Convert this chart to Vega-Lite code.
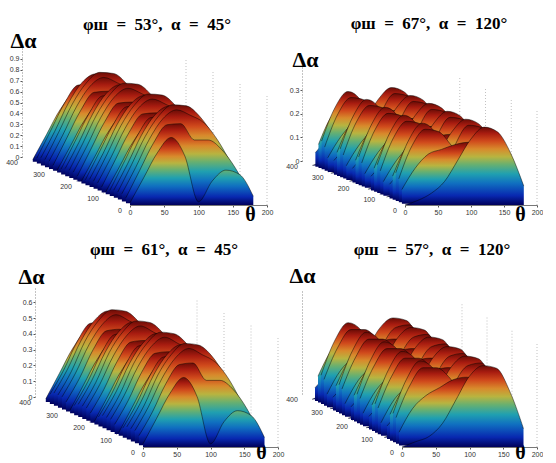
{
  "$schema": "https://vega.github.io/schema/vega-lite/v6.json",
  "background": "white",
  "padding": {"left": 6, "top": 15, "right": 0, "bottom": 0},
  "columns": 2,
  "bounds": "flush",
  "spacing": {"row": 72, "column": 22},
  "config": {
    "view": {"stroke": null},
    "axis": {"grid": false, "labelFont": "Liberation Sans", "labelFontSize": 7, "labelColor": "#333", "labelPadding": 1, "labelFlush": false, "labelOverlap": false, "tickSize": 2, "tickColor": "#555", "domainColor": "#777", "titleFont": "Liberation Serif", "titleFontSize": 22, "titleFontWeight": "bold", "titleColor": "#000", "titleAngle": 0, "titleAlign": "center", "titleBaseline": "middle", "titlePadding": 0},
    "axisX": {"titleFontSize": 20},
    "axisY": {"domainDash": [1, 2], "domainColor": "#888", "titleAngle": 0},
    "title": {"font": "Liberation Serif", "fontSize": 17, "fontWeight": "bold", "color": "#000", "baseline": "bottom", "frame": "group"},
    "rule": {"color": "#a8a8a8", "strokeWidth": 0.7, "strokeDash": [1, 2]},
    "line": {"interpolate": "monotone", "color": "#000", "strokeWidth": 0.5, "strokeOpacity": 0.9},
    "area": {"interpolate": "monotone", "fill": {"gradient": "linear", "x1": 0, "y1": 1, "x2": 0, "y2": 0, "stops": [{"offset": 0, "color": "#00005a"}, {"offset": 0.12, "color": "#0828b0"}, {"offset": 0.28, "color": "#1070c0"}, {"offset": 0.4, "color": "#20a0b0"}, {"offset": 0.52, "color": "#68b070"}, {"offset": 0.62, "color": "#b8b440"}, {"offset": 0.72, "color": "#d88a2c"}, {"offset": 0.82, "color": "#d04a1c"}, {"offset": 0.92, "color": "#a81c10"}, {"offset": 1, "color": "#6a0c06"}]}, "stroke": null}
  },
  "datasets": {
    "lv": [{"d":0},{"d":0.1},{"d":0.2},{"d":0.3},{"d":0.4},{"d":0.5},{"d":0.6},{"d":0.7},{"d":0.8},{"d":0.9},{"d":1}],
    "lv4": [{"d":0},{"d":0.05},{"d":0.1},{"d":0.15},{"d":0.2},{"d":0.25},{"d":0.3},{"d":0.35},{"d":0.4}],
    "tv": [{"t":50},{"t":100},{"t":150},{"t":200}],
    "pv": [{"f":100},{"f":200},{"f":300}],
    "pv0": [{"f":0},{"f":100},{"f":200},{"f":300}],
    "pt": [{"f":0},{"f":100},{"f":200},{"f":300},{"f":400}],
    "s1": [
      {"f":360,"t":0,"d":0.02},{"f":360,"t":20,"d":0.25},{"f":360,"t":40,"d":0.48},{"f":360,"t":60,"d":0.62},{"f":360,"t":80,"d":0.45},{"f":360,"t":100,"d":0.03},{"f":360,"t":120,"d":0.22},{"f":360,"t":140,"d":0.32},{"f":360,"t":160,"d":0.28},{"f":360,"t":180,"d":0.08},
      {"f":345,"t":0,"d":0.05},{"f":345,"t":20,"d":0.3},{"f":345,"t":40,"d":0.55},{"f":345,"t":60,"d":0.72},{"f":345,"t":80,"d":0.73},{"f":345,"t":100,"d":0.58},{"f":345,"t":120,"d":0.58},{"f":345,"t":140,"d":0.49},{"f":345,"t":160,"d":0.32},{"f":345,"t":180,"d":0.09},
      {"f":330,"t":0,"d":0.07},{"f":330,"t":20,"d":0.31},{"f":330,"t":40,"d":0.57},{"f":330,"t":60,"d":0.76},{"f":330,"t":80,"d":0.84},{"f":330,"t":100,"d":0.79},{"f":330,"t":120,"d":0.72},{"f":330,"t":140,"d":0.56},{"f":330,"t":160,"d":0.34},{"f":330,"t":180,"d":0.09},
      {"f":315,"t":0,"d":0.07},{"f":315,"t":20,"d":0.32},{"f":315,"t":40,"d":0.58},{"f":315,"t":60,"d":0.77},{"f":315,"t":80,"d":0.87},{"f":315,"t":100,"d":0.86},{"f":315,"t":120,"d":0.76},{"f":315,"t":140,"d":0.58},{"f":315,"t":160,"d":0.34},{"f":315,"t":180,"d":0.09},
      {"f":300,"t":0,"d":0.07},{"f":300,"t":20,"d":0.31},{"f":300,"t":40,"d":0.57},{"f":300,"t":60,"d":0.76},{"f":300,"t":80,"d":0.84},{"f":300,"t":100,"d":0.79},{"f":300,"t":120,"d":0.72},{"f":300,"t":140,"d":0.56},{"f":300,"t":160,"d":0.34},{"f":300,"t":180,"d":0.09},
      {"f":285,"t":0,"d":0.05},{"f":285,"t":20,"d":0.3},{"f":285,"t":40,"d":0.55},{"f":285,"t":60,"d":0.72},{"f":285,"t":80,"d":0.73},{"f":285,"t":100,"d":0.58},{"f":285,"t":120,"d":0.58},{"f":285,"t":140,"d":0.49},{"f":285,"t":160,"d":0.32},{"f":285,"t":180,"d":0.09},
      {"f":270,"t":0,"d":0.02},{"f":270,"t":20,"d":0.25},{"f":270,"t":40,"d":0.48},{"f":270,"t":60,"d":0.62},{"f":270,"t":80,"d":0.45},{"f":270,"t":100,"d":0.03},{"f":270,"t":120,"d":0.22},{"f":270,"t":140,"d":0.32},{"f":270,"t":160,"d":0.28},{"f":270,"t":180,"d":0.08},
      {"f":255,"t":0,"d":0.05},{"f":255,"t":20,"d":0.3},{"f":255,"t":40,"d":0.55},{"f":255,"t":60,"d":0.72},{"f":255,"t":80,"d":0.73},{"f":255,"t":100,"d":0.58},{"f":255,"t":120,"d":0.58},{"f":255,"t":140,"d":0.49},{"f":255,"t":160,"d":0.32},{"f":255,"t":180,"d":0.09},
      {"f":240,"t":0,"d":0.07},{"f":240,"t":20,"d":0.31},{"f":240,"t":40,"d":0.57},{"f":240,"t":60,"d":0.76},{"f":240,"t":80,"d":0.84},{"f":240,"t":100,"d":0.79},{"f":240,"t":120,"d":0.72},{"f":240,"t":140,"d":0.56},{"f":240,"t":160,"d":0.34},{"f":240,"t":180,"d":0.09},
      {"f":225,"t":0,"d":0.07},{"f":225,"t":20,"d":0.32},{"f":225,"t":40,"d":0.58},{"f":225,"t":60,"d":0.77},{"f":225,"t":80,"d":0.87},{"f":225,"t":100,"d":0.86},{"f":225,"t":120,"d":0.76},{"f":225,"t":140,"d":0.58},{"f":225,"t":160,"d":0.34},{"f":225,"t":180,"d":0.09},
      {"f":210,"t":0,"d":0.07},{"f":210,"t":20,"d":0.31},{"f":210,"t":40,"d":0.57},{"f":210,"t":60,"d":0.76},{"f":210,"t":80,"d":0.84},{"f":210,"t":100,"d":0.79},{"f":210,"t":120,"d":0.72},{"f":210,"t":140,"d":0.56},{"f":210,"t":160,"d":0.34},{"f":210,"t":180,"d":0.09},
      {"f":195,"t":0,"d":0.05},{"f":195,"t":20,"d":0.3},{"f":195,"t":40,"d":0.55},{"f":195,"t":60,"d":0.72},{"f":195,"t":80,"d":0.73},{"f":195,"t":100,"d":0.58},{"f":195,"t":120,"d":0.58},{"f":195,"t":140,"d":0.49},{"f":195,"t":160,"d":0.32},{"f":195,"t":180,"d":0.09},
      {"f":180,"t":0,"d":0.02},{"f":180,"t":20,"d":0.25},{"f":180,"t":40,"d":0.48},{"f":180,"t":60,"d":0.62},{"f":180,"t":80,"d":0.45},{"f":180,"t":100,"d":0.03},{"f":180,"t":120,"d":0.22},{"f":180,"t":140,"d":0.32},{"f":180,"t":160,"d":0.28},{"f":180,"t":180,"d":0.08},
      {"f":165,"t":0,"d":0.05},{"f":165,"t":20,"d":0.3},{"f":165,"t":40,"d":0.55},{"f":165,"t":60,"d":0.72},{"f":165,"t":80,"d":0.73},{"f":165,"t":100,"d":0.58},{"f":165,"t":120,"d":0.58},{"f":165,"t":140,"d":0.49},{"f":165,"t":160,"d":0.32},{"f":165,"t":180,"d":0.09},
      {"f":150,"t":0,"d":0.07},{"f":150,"t":20,"d":0.31},{"f":150,"t":40,"d":0.57},{"f":150,"t":60,"d":0.76},{"f":150,"t":80,"d":0.84},{"f":150,"t":100,"d":0.79},{"f":150,"t":120,"d":0.72},{"f":150,"t":140,"d":0.56},{"f":150,"t":160,"d":0.34},{"f":150,"t":180,"d":0.09},
      {"f":135,"t":0,"d":0.07},{"f":135,"t":20,"d":0.32},{"f":135,"t":40,"d":0.58},{"f":135,"t":60,"d":0.77},{"f":135,"t":80,"d":0.87},{"f":135,"t":100,"d":0.86},{"f":135,"t":120,"d":0.76},{"f":135,"t":140,"d":0.58},{"f":135,"t":160,"d":0.34},{"f":135,"t":180,"d":0.09},
      {"f":120,"t":0,"d":0.07},{"f":120,"t":20,"d":0.31},{"f":120,"t":40,"d":0.57},{"f":120,"t":60,"d":0.76},{"f":120,"t":80,"d":0.84},{"f":120,"t":100,"d":0.79},{"f":120,"t":120,"d":0.72},{"f":120,"t":140,"d":0.56},{"f":120,"t":160,"d":0.34},{"f":120,"t":180,"d":0.09},
      {"f":105,"t":0,"d":0.05},{"f":105,"t":20,"d":0.3},{"f":105,"t":40,"d":0.55},{"f":105,"t":60,"d":0.72},{"f":105,"t":80,"d":0.73},{"f":105,"t":100,"d":0.58},{"f":105,"t":120,"d":0.58},{"f":105,"t":140,"d":0.49},{"f":105,"t":160,"d":0.32},{"f":105,"t":180,"d":0.09},
      {"f":90,"t":0,"d":0.02},{"f":90,"t":20,"d":0.25},{"f":90,"t":40,"d":0.48},{"f":90,"t":60,"d":0.62},{"f":90,"t":80,"d":0.45},{"f":90,"t":100,"d":0.03},{"f":90,"t":120,"d":0.22},{"f":90,"t":140,"d":0.32},{"f":90,"t":160,"d":0.28},{"f":90,"t":180,"d":0.08},
      {"f":75,"t":0,"d":0.05},{"f":75,"t":20,"d":0.3},{"f":75,"t":40,"d":0.55},{"f":75,"t":60,"d":0.72},{"f":75,"t":80,"d":0.73},{"f":75,"t":100,"d":0.58},{"f":75,"t":120,"d":0.58},{"f":75,"t":140,"d":0.49},{"f":75,"t":160,"d":0.32},{"f":75,"t":180,"d":0.09},
      {"f":60,"t":0,"d":0.07},{"f":60,"t":20,"d":0.31},{"f":60,"t":40,"d":0.57},{"f":60,"t":60,"d":0.76},{"f":60,"t":80,"d":0.84},{"f":60,"t":100,"d":0.79},{"f":60,"t":120,"d":0.72},{"f":60,"t":140,"d":0.56},{"f":60,"t":160,"d":0.34},{"f":60,"t":180,"d":0.09},
      {"f":45,"t":0,"d":0.07},{"f":45,"t":20,"d":0.32},{"f":45,"t":40,"d":0.58},{"f":45,"t":60,"d":0.77},{"f":45,"t":80,"d":0.87},{"f":45,"t":100,"d":0.86},{"f":45,"t":120,"d":0.76},{"f":45,"t":140,"d":0.58},{"f":45,"t":160,"d":0.34},{"f":45,"t":180,"d":0.09},
      {"f":30,"t":0,"d":0.07},{"f":30,"t":20,"d":0.31},{"f":30,"t":40,"d":0.57},{"f":30,"t":60,"d":0.76},{"f":30,"t":80,"d":0.84},{"f":30,"t":100,"d":0.79},{"f":30,"t":120,"d":0.72},{"f":30,"t":140,"d":0.56},{"f":30,"t":160,"d":0.34},{"f":30,"t":180,"d":0.09},
      {"f":15,"t":0,"d":0.05},{"f":15,"t":20,"d":0.3},{"f":15,"t":40,"d":0.55},{"f":15,"t":60,"d":0.72},{"f":15,"t":80,"d":0.73},{"f":15,"t":100,"d":0.58},{"f":15,"t":120,"d":0.58},{"f":15,"t":140,"d":0.49},{"f":15,"t":160,"d":0.32},{"f":15,"t":180,"d":0.09},
      {"f":0,"t":0,"d":0.02},{"f":0,"t":20,"d":0.25},{"f":0,"t":40,"d":0.48},{"f":0,"t":60,"d":0.62},{"f":0,"t":80,"d":0.45},{"f":0,"t":100,"d":0.03},{"f":0,"t":120,"d":0.22},{"f":0,"t":140,"d":0.32},{"f":0,"t":160,"d":0.28},{"f":0,"t":180,"d":0.08}
    ],
    "s3": [
      {"f":360,"t":0,"d":0.02},{"f":360,"t":20,"d":0.18},{"f":360,"t":40,"d":0.34},{"f":360,"t":60,"d":0.44},{"f":360,"t":80,"d":0.32},{"f":360,"t":100,"d":0.02},{"f":360,"t":120,"d":0.16},{"f":360,"t":140,"d":0.23},{"f":360,"t":160,"d":0.2},{"f":360,"t":180,"d":0.06},
      {"f":345,"t":0,"d":0.06},{"f":345,"t":20,"d":0.21},{"f":345,"t":40,"d":0.39},{"f":345,"t":60,"d":0.51},{"f":345,"t":80,"d":0.52},{"f":345,"t":100,"d":0.41},{"f":345,"t":120,"d":0.41},{"f":345,"t":140,"d":0.35},{"f":345,"t":160,"d":0.23},{"f":345,"t":180,"d":0.06},
      {"f":330,"t":0,"d":0.08},{"f":330,"t":20,"d":0.23},{"f":330,"t":40,"d":0.41},{"f":330,"t":60,"d":0.54},{"f":330,"t":80,"d":0.6},{"f":330,"t":100,"d":0.56},{"f":330,"t":120,"d":0.51},{"f":330,"t":140,"d":0.4},{"f":330,"t":160,"d":0.24},{"f":330,"t":180,"d":0.06},
      {"f":315,"t":0,"d":0.08},{"f":315,"t":20,"d":0.23},{"f":315,"t":40,"d":0.42},{"f":315,"t":60,"d":0.55},{"f":315,"t":80,"d":0.62},{"f":315,"t":100,"d":0.61},{"f":315,"t":120,"d":0.54},{"f":315,"t":140,"d":0.41},{"f":315,"t":160,"d":0.24},{"f":315,"t":180,"d":0.06},
      {"f":300,"t":0,"d":0.08},{"f":300,"t":20,"d":0.23},{"f":300,"t":40,"d":0.41},{"f":300,"t":60,"d":0.54},{"f":300,"t":80,"d":0.6},{"f":300,"t":100,"d":0.56},{"f":300,"t":120,"d":0.51},{"f":300,"t":140,"d":0.4},{"f":300,"t":160,"d":0.24},{"f":300,"t":180,"d":0.06},
      {"f":285,"t":0,"d":0.06},{"f":285,"t":20,"d":0.21},{"f":285,"t":40,"d":0.39},{"f":285,"t":60,"d":0.51},{"f":285,"t":80,"d":0.52},{"f":285,"t":100,"d":0.41},{"f":285,"t":120,"d":0.41},{"f":285,"t":140,"d":0.35},{"f":285,"t":160,"d":0.23},{"f":285,"t":180,"d":0.06},
      {"f":270,"t":0,"d":0.02},{"f":270,"t":20,"d":0.18},{"f":270,"t":40,"d":0.34},{"f":270,"t":60,"d":0.44},{"f":270,"t":80,"d":0.32},{"f":270,"t":100,"d":0.02},{"f":270,"t":120,"d":0.16},{"f":270,"t":140,"d":0.23},{"f":270,"t":160,"d":0.2},{"f":270,"t":180,"d":0.06},
      {"f":255,"t":0,"d":0.06},{"f":255,"t":20,"d":0.21},{"f":255,"t":40,"d":0.39},{"f":255,"t":60,"d":0.51},{"f":255,"t":80,"d":0.52},{"f":255,"t":100,"d":0.41},{"f":255,"t":120,"d":0.41},{"f":255,"t":140,"d":0.35},{"f":255,"t":160,"d":0.23},{"f":255,"t":180,"d":0.06},
      {"f":240,"t":0,"d":0.08},{"f":240,"t":20,"d":0.23},{"f":240,"t":40,"d":0.41},{"f":240,"t":60,"d":0.54},{"f":240,"t":80,"d":0.6},{"f":240,"t":100,"d":0.56},{"f":240,"t":120,"d":0.51},{"f":240,"t":140,"d":0.4},{"f":240,"t":160,"d":0.24},{"f":240,"t":180,"d":0.06},
      {"f":225,"t":0,"d":0.08},{"f":225,"t":20,"d":0.23},{"f":225,"t":40,"d":0.42},{"f":225,"t":60,"d":0.55},{"f":225,"t":80,"d":0.62},{"f":225,"t":100,"d":0.61},{"f":225,"t":120,"d":0.54},{"f":225,"t":140,"d":0.41},{"f":225,"t":160,"d":0.24},{"f":225,"t":180,"d":0.06},
      {"f":210,"t":0,"d":0.08},{"f":210,"t":20,"d":0.23},{"f":210,"t":40,"d":0.41},{"f":210,"t":60,"d":0.54},{"f":210,"t":80,"d":0.6},{"f":210,"t":100,"d":0.56},{"f":210,"t":120,"d":0.51},{"f":210,"t":140,"d":0.4},{"f":210,"t":160,"d":0.24},{"f":210,"t":180,"d":0.06},
      {"f":195,"t":0,"d":0.06},{"f":195,"t":20,"d":0.21},{"f":195,"t":40,"d":0.39},{"f":195,"t":60,"d":0.51},{"f":195,"t":80,"d":0.52},{"f":195,"t":100,"d":0.41},{"f":195,"t":120,"d":0.41},{"f":195,"t":140,"d":0.35},{"f":195,"t":160,"d":0.23},{"f":195,"t":180,"d":0.06},
      {"f":180,"t":0,"d":0.02},{"f":180,"t":20,"d":0.18},{"f":180,"t":40,"d":0.34},{"f":180,"t":60,"d":0.44},{"f":180,"t":80,"d":0.32},{"f":180,"t":100,"d":0.02},{"f":180,"t":120,"d":0.16},{"f":180,"t":140,"d":0.23},{"f":180,"t":160,"d":0.2},{"f":180,"t":180,"d":0.06},
      {"f":165,"t":0,"d":0.06},{"f":165,"t":20,"d":0.21},{"f":165,"t":40,"d":0.39},{"f":165,"t":60,"d":0.51},{"f":165,"t":80,"d":0.52},{"f":165,"t":100,"d":0.41},{"f":165,"t":120,"d":0.41},{"f":165,"t":140,"d":0.35},{"f":165,"t":160,"d":0.23},{"f":165,"t":180,"d":0.06},
      {"f":150,"t":0,"d":0.08},{"f":150,"t":20,"d":0.23},{"f":150,"t":40,"d":0.41},{"f":150,"t":60,"d":0.54},{"f":150,"t":80,"d":0.6},{"f":150,"t":100,"d":0.56},{"f":150,"t":120,"d":0.51},{"f":150,"t":140,"d":0.4},{"f":150,"t":160,"d":0.24},{"f":150,"t":180,"d":0.06},
      {"f":135,"t":0,"d":0.08},{"f":135,"t":20,"d":0.23},{"f":135,"t":40,"d":0.42},{"f":135,"t":60,"d":0.55},{"f":135,"t":80,"d":0.62},{"f":135,"t":100,"d":0.61},{"f":135,"t":120,"d":0.54},{"f":135,"t":140,"d":0.41},{"f":135,"t":160,"d":0.24},{"f":135,"t":180,"d":0.06},
      {"f":120,"t":0,"d":0.08},{"f":120,"t":20,"d":0.23},{"f":120,"t":40,"d":0.41},{"f":120,"t":60,"d":0.54},{"f":120,"t":80,"d":0.6},{"f":120,"t":100,"d":0.56},{"f":120,"t":120,"d":0.51},{"f":120,"t":140,"d":0.4},{"f":120,"t":160,"d":0.24},{"f":120,"t":180,"d":0.06},
      {"f":105,"t":0,"d":0.06},{"f":105,"t":20,"d":0.21},{"f":105,"t":40,"d":0.39},{"f":105,"t":60,"d":0.51},{"f":105,"t":80,"d":0.52},{"f":105,"t":100,"d":0.41},{"f":105,"t":120,"d":0.41},{"f":105,"t":140,"d":0.35},{"f":105,"t":160,"d":0.23},{"f":105,"t":180,"d":0.06},
      {"f":90,"t":0,"d":0.02},{"f":90,"t":20,"d":0.18},{"f":90,"t":40,"d":0.34},{"f":90,"t":60,"d":0.44},{"f":90,"t":80,"d":0.32},{"f":90,"t":100,"d":0.02},{"f":90,"t":120,"d":0.16},{"f":90,"t":140,"d":0.23},{"f":90,"t":160,"d":0.2},{"f":90,"t":180,"d":0.06},
      {"f":75,"t":0,"d":0.06},{"f":75,"t":20,"d":0.21},{"f":75,"t":40,"d":0.39},{"f":75,"t":60,"d":0.51},{"f":75,"t":80,"d":0.52},{"f":75,"t":100,"d":0.41},{"f":75,"t":120,"d":0.41},{"f":75,"t":140,"d":0.35},{"f":75,"t":160,"d":0.23},{"f":75,"t":180,"d":0.06},
      {"f":60,"t":0,"d":0.08},{"f":60,"t":20,"d":0.23},{"f":60,"t":40,"d":0.41},{"f":60,"t":60,"d":0.54},{"f":60,"t":80,"d":0.6},{"f":60,"t":100,"d":0.56},{"f":60,"t":120,"d":0.51},{"f":60,"t":140,"d":0.4},{"f":60,"t":160,"d":0.24},{"f":60,"t":180,"d":0.06},
      {"f":45,"t":0,"d":0.08},{"f":45,"t":20,"d":0.23},{"f":45,"t":40,"d":0.42},{"f":45,"t":60,"d":0.55},{"f":45,"t":80,"d":0.62},{"f":45,"t":100,"d":0.61},{"f":45,"t":120,"d":0.54},{"f":45,"t":140,"d":0.41},{"f":45,"t":160,"d":0.24},{"f":45,"t":180,"d":0.06},
      {"f":30,"t":0,"d":0.08},{"f":30,"t":20,"d":0.23},{"f":30,"t":40,"d":0.41},{"f":30,"t":60,"d":0.54},{"f":30,"t":80,"d":0.6},{"f":30,"t":100,"d":0.56},{"f":30,"t":120,"d":0.51},{"f":30,"t":140,"d":0.4},{"f":30,"t":160,"d":0.24},{"f":30,"t":180,"d":0.06},
      {"f":15,"t":0,"d":0.06},{"f":15,"t":20,"d":0.21},{"f":15,"t":40,"d":0.39},{"f":15,"t":60,"d":0.51},{"f":15,"t":80,"d":0.52},{"f":15,"t":100,"d":0.41},{"f":15,"t":120,"d":0.41},{"f":15,"t":140,"d":0.35},{"f":15,"t":160,"d":0.23},{"f":15,"t":180,"d":0.06},
      {"f":0,"t":0,"d":0.02},{"f":0,"t":20,"d":0.18},{"f":0,"t":40,"d":0.34},{"f":0,"t":60,"d":0.44},{"f":0,"t":80,"d":0.32},{"f":0,"t":100,"d":0.02},{"f":0,"t":120,"d":0.16},{"f":0,"t":140,"d":0.23},{"f":0,"t":160,"d":0.2},{"f":0,"t":180,"d":0.06}
    ],
    "s2": [
      {"f":360,"t":0,"d":0},{"f":360,"t":20,"d":0.02},{"f":360,"t":40,"d":0.05},{"f":360,"t":60,"d":0.1},{"f":360,"t":80,"d":0.19},{"f":360,"t":100,"d":0.28},{"f":360,"t":120,"d":0.33},{"f":360,"t":140,"d":0.31},{"f":360,"t":160,"d":0.22},{"f":360,"t":180,"d":0.08},
      {"f":348,"t":0,"d":0.06},{"f":348,"t":20,"d":0.11},{"f":348,"t":40,"d":0.12},{"f":348,"t":60,"d":0.06},{"f":348,"t":80,"d":0.08},{"f":348,"t":100,"d":0.23},{"f":348,"t":120,"d":0.31},{"f":348,"t":140,"d":0.3},{"f":348,"t":160,"d":0.21},{"f":348,"t":180,"d":0.07},
      {"f":336,"t":0,"d":0.1},{"f":336,"t":20,"d":0.22},{"f":336,"t":40,"d":0.26},{"f":336,"t":60,"d":0.2},{"f":336,"t":80,"d":0.05},{"f":336,"t":100,"d":0.11},{"f":336,"t":120,"d":0.21},{"f":336,"t":140,"d":0.21},{"f":336,"t":160,"d":0.15},{"f":336,"t":180,"d":0.04},
      {"f":324,"t":0,"d":0.12},{"f":324,"t":20,"d":0.26},{"f":324,"t":40,"d":0.33},{"f":324,"t":60,"d":0.29},{"f":324,"t":80,"d":0.17},{"f":324,"t":100,"d":0.03},{"f":324,"t":120,"d":0.05},{"f":324,"t":140,"d":0.06},{"f":324,"t":160,"d":0.04},{"f":324,"t":180,"d":0},
      {"f":312,"t":0,"d":0.1},{"f":312,"t":20,"d":0.24},{"f":312,"t":40,"d":0.31},{"f":312,"t":60,"d":0.3},{"f":312,"t":80,"d":0.24},{"f":312,"t":100,"d":0.17},{"f":312,"t":120,"d":0.12},{"f":312,"t":140,"d":0.1},{"f":312,"t":160,"d":0.08},{"f":312,"t":180,"d":0.04},
      {"f":300,"t":0,"d":0.06},{"f":300,"t":20,"d":0.15},{"f":300,"t":40,"d":0.21},{"f":300,"t":60,"d":0.23},{"f":300,"t":80,"d":0.25},{"f":300,"t":100,"d":0.26},{"f":300,"t":120,"d":0.26},{"f":300,"t":140,"d":0.24},{"f":300,"t":160,"d":0.17},{"f":300,"t":180,"d":0.07},
      {"f":288,"t":0,"d":0},{"f":288,"t":20,"d":0.02},{"f":288,"t":40,"d":0.05},{"f":288,"t":60,"d":0.1},{"f":288,"t":80,"d":0.19},{"f":288,"t":100,"d":0.28},{"f":288,"t":120,"d":0.33},{"f":288,"t":140,"d":0.31},{"f":288,"t":160,"d":0.22},{"f":288,"t":180,"d":0.08},
      {"f":276,"t":0,"d":0.06},{"f":276,"t":20,"d":0.11},{"f":276,"t":40,"d":0.12},{"f":276,"t":60,"d":0.06},{"f":276,"t":80,"d":0.08},{"f":276,"t":100,"d":0.23},{"f":276,"t":120,"d":0.31},{"f":276,"t":140,"d":0.3},{"f":276,"t":160,"d":0.21},{"f":276,"t":180,"d":0.07},
      {"f":264,"t":0,"d":0.1},{"f":264,"t":20,"d":0.22},{"f":264,"t":40,"d":0.26},{"f":264,"t":60,"d":0.2},{"f":264,"t":80,"d":0.05},{"f":264,"t":100,"d":0.11},{"f":264,"t":120,"d":0.21},{"f":264,"t":140,"d":0.21},{"f":264,"t":160,"d":0.15},{"f":264,"t":180,"d":0.04},
      {"f":252,"t":0,"d":0.12},{"f":252,"t":20,"d":0.26},{"f":252,"t":40,"d":0.33},{"f":252,"t":60,"d":0.29},{"f":252,"t":80,"d":0.17},{"f":252,"t":100,"d":0.03},{"f":252,"t":120,"d":0.05},{"f":252,"t":140,"d":0.06},{"f":252,"t":160,"d":0.04},{"f":252,"t":180,"d":0},
      {"f":240,"t":0,"d":0.1},{"f":240,"t":20,"d":0.24},{"f":240,"t":40,"d":0.31},{"f":240,"t":60,"d":0.3},{"f":240,"t":80,"d":0.24},{"f":240,"t":100,"d":0.17},{"f":240,"t":120,"d":0.12},{"f":240,"t":140,"d":0.1},{"f":240,"t":160,"d":0.08},{"f":240,"t":180,"d":0.04},
      {"f":228,"t":0,"d":0.06},{"f":228,"t":20,"d":0.15},{"f":228,"t":40,"d":0.21},{"f":228,"t":60,"d":0.23},{"f":228,"t":80,"d":0.25},{"f":228,"t":100,"d":0.26},{"f":228,"t":120,"d":0.26},{"f":228,"t":140,"d":0.24},{"f":228,"t":160,"d":0.17},{"f":228,"t":180,"d":0.07},
      {"f":216,"t":0,"d":0},{"f":216,"t":20,"d":0.02},{"f":216,"t":40,"d":0.05},{"f":216,"t":60,"d":0.1},{"f":216,"t":80,"d":0.19},{"f":216,"t":100,"d":0.28},{"f":216,"t":120,"d":0.33},{"f":216,"t":140,"d":0.31},{"f":216,"t":160,"d":0.22},{"f":216,"t":180,"d":0.08},
      {"f":204,"t":0,"d":0.06},{"f":204,"t":20,"d":0.11},{"f":204,"t":40,"d":0.12},{"f":204,"t":60,"d":0.06},{"f":204,"t":80,"d":0.08},{"f":204,"t":100,"d":0.23},{"f":204,"t":120,"d":0.31},{"f":204,"t":140,"d":0.3},{"f":204,"t":160,"d":0.21},{"f":204,"t":180,"d":0.07},
      {"f":192,"t":0,"d":0.1},{"f":192,"t":20,"d":0.22},{"f":192,"t":40,"d":0.26},{"f":192,"t":60,"d":0.2},{"f":192,"t":80,"d":0.05},{"f":192,"t":100,"d":0.11},{"f":192,"t":120,"d":0.21},{"f":192,"t":140,"d":0.21},{"f":192,"t":160,"d":0.15},{"f":192,"t":180,"d":0.04},
      {"f":180,"t":0,"d":0.12},{"f":180,"t":20,"d":0.26},{"f":180,"t":40,"d":0.33},{"f":180,"t":60,"d":0.29},{"f":180,"t":80,"d":0.17},{"f":180,"t":100,"d":0.03},{"f":180,"t":120,"d":0.05},{"f":180,"t":140,"d":0.06},{"f":180,"t":160,"d":0.04},{"f":180,"t":180,"d":0},
      {"f":168,"t":0,"d":0.1},{"f":168,"t":20,"d":0.24},{"f":168,"t":40,"d":0.31},{"f":168,"t":60,"d":0.3},{"f":168,"t":80,"d":0.24},{"f":168,"t":100,"d":0.17},{"f":168,"t":120,"d":0.12},{"f":168,"t":140,"d":0.1},{"f":168,"t":160,"d":0.08},{"f":168,"t":180,"d":0.04},
      {"f":156,"t":0,"d":0.06},{"f":156,"t":20,"d":0.15},{"f":156,"t":40,"d":0.21},{"f":156,"t":60,"d":0.23},{"f":156,"t":80,"d":0.25},{"f":156,"t":100,"d":0.26},{"f":156,"t":120,"d":0.26},{"f":156,"t":140,"d":0.24},{"f":156,"t":160,"d":0.17},{"f":156,"t":180,"d":0.07},
      {"f":144,"t":0,"d":0},{"f":144,"t":20,"d":0.02},{"f":144,"t":40,"d":0.05},{"f":144,"t":60,"d":0.1},{"f":144,"t":80,"d":0.19},{"f":144,"t":100,"d":0.28},{"f":144,"t":120,"d":0.33},{"f":144,"t":140,"d":0.31},{"f":144,"t":160,"d":0.22},{"f":144,"t":180,"d":0.08},
      {"f":132,"t":0,"d":0.06},{"f":132,"t":20,"d":0.11},{"f":132,"t":40,"d":0.12},{"f":132,"t":60,"d":0.06},{"f":132,"t":80,"d":0.08},{"f":132,"t":100,"d":0.23},{"f":132,"t":120,"d":0.31},{"f":132,"t":140,"d":0.3},{"f":132,"t":160,"d":0.21},{"f":132,"t":180,"d":0.07},
      {"f":120,"t":0,"d":0.1},{"f":120,"t":20,"d":0.22},{"f":120,"t":40,"d":0.26},{"f":120,"t":60,"d":0.2},{"f":120,"t":80,"d":0.05},{"f":120,"t":100,"d":0.11},{"f":120,"t":120,"d":0.21},{"f":120,"t":140,"d":0.21},{"f":120,"t":160,"d":0.15},{"f":120,"t":180,"d":0.04},
      {"f":108,"t":0,"d":0.12},{"f":108,"t":20,"d":0.26},{"f":108,"t":40,"d":0.33},{"f":108,"t":60,"d":0.29},{"f":108,"t":80,"d":0.17},{"f":108,"t":100,"d":0.03},{"f":108,"t":120,"d":0.05},{"f":108,"t":140,"d":0.06},{"f":108,"t":160,"d":0.04},{"f":108,"t":180,"d":0},
      {"f":96,"t":0,"d":0.1},{"f":96,"t":20,"d":0.24},{"f":96,"t":40,"d":0.31},{"f":96,"t":60,"d":0.3},{"f":96,"t":80,"d":0.24},{"f":96,"t":100,"d":0.17},{"f":96,"t":120,"d":0.12},{"f":96,"t":140,"d":0.1},{"f":96,"t":160,"d":0.08},{"f":96,"t":180,"d":0.04},
      {"f":84,"t":0,"d":0.06},{"f":84,"t":20,"d":0.15},{"f":84,"t":40,"d":0.21},{"f":84,"t":60,"d":0.23},{"f":84,"t":80,"d":0.25},{"f":84,"t":100,"d":0.26},{"f":84,"t":120,"d":0.26},{"f":84,"t":140,"d":0.24},{"f":84,"t":160,"d":0.17},{"f":84,"t":180,"d":0.07},
      {"f":72,"t":0,"d":0},{"f":72,"t":20,"d":0.02},{"f":72,"t":40,"d":0.05},{"f":72,"t":60,"d":0.1},{"f":72,"t":80,"d":0.19},{"f":72,"t":100,"d":0.28},{"f":72,"t":120,"d":0.33},{"f":72,"t":140,"d":0.31},{"f":72,"t":160,"d":0.22},{"f":72,"t":180,"d":0.08},
      {"f":60,"t":0,"d":0.06},{"f":60,"t":20,"d":0.11},{"f":60,"t":40,"d":0.12},{"f":60,"t":60,"d":0.06},{"f":60,"t":80,"d":0.08},{"f":60,"t":100,"d":0.23},{"f":60,"t":120,"d":0.31},{"f":60,"t":140,"d":0.3},{"f":60,"t":160,"d":0.21},{"f":60,"t":180,"d":0.07},
      {"f":48,"t":0,"d":0.1},{"f":48,"t":20,"d":0.22},{"f":48,"t":40,"d":0.26},{"f":48,"t":60,"d":0.2},{"f":48,"t":80,"d":0.05},{"f":48,"t":100,"d":0.11},{"f":48,"t":120,"d":0.21},{"f":48,"t":140,"d":0.21},{"f":48,"t":160,"d":0.15},{"f":48,"t":180,"d":0.04},
      {"f":36,"t":0,"d":0.12},{"f":36,"t":20,"d":0.26},{"f":36,"t":40,"d":0.33},{"f":36,"t":60,"d":0.29},{"f":36,"t":80,"d":0.17},{"f":36,"t":100,"d":0.03},{"f":36,"t":120,"d":0.05},{"f":36,"t":140,"d":0.06},{"f":36,"t":160,"d":0.04},{"f":36,"t":180,"d":0},
      {"f":24,"t":0,"d":0.1},{"f":24,"t":20,"d":0.24},{"f":24,"t":40,"d":0.31},{"f":24,"t":60,"d":0.3},{"f":24,"t":80,"d":0.24},{"f":24,"t":100,"d":0.17},{"f":24,"t":120,"d":0.12},{"f":24,"t":140,"d":0.1},{"f":24,"t":160,"d":0.08},{"f":24,"t":180,"d":0.04},
      {"f":12,"t":0,"d":0.06},{"f":12,"t":20,"d":0.15},{"f":12,"t":40,"d":0.21},{"f":12,"t":60,"d":0.23},{"f":12,"t":80,"d":0.25},{"f":12,"t":100,"d":0.26},{"f":12,"t":120,"d":0.26},{"f":12,"t":140,"d":0.24},{"f":12,"t":160,"d":0.17},{"f":12,"t":180,"d":0.07},
      {"f":0,"t":0,"d":0},{"f":0,"t":20,"d":0.02},{"f":0,"t":40,"d":0.05},{"f":0,"t":60,"d":0.1},{"f":0,"t":80,"d":0.19},{"f":0,"t":100,"d":0.28},{"f":0,"t":120,"d":0.33},{"f":0,"t":140,"d":0.31},{"f":0,"t":160,"d":0.22},{"f":0,"t":180,"d":0.08}
    ],
    "s4": [
      {"f":360,"t":0,"d":0},{"f":360,"t":20,"d":0.02},{"f":360,"t":40,"d":0.04},{"f":360,"t":60,"d":0.09},{"f":360,"t":80,"d":0.18},{"f":360,"t":100,"d":0.27},{"f":360,"t":120,"d":0.31},{"f":360,"t":140,"d":0.3},{"f":360,"t":160,"d":0.21},{"f":360,"t":180,"d":0.07},
      {"f":348,"t":0,"d":0.05},{"f":348,"t":20,"d":0.1},{"f":348,"t":40,"d":0.12},{"f":348,"t":60,"d":0.06},{"f":348,"t":80,"d":0.07},{"f":348,"t":100,"d":0.21},{"f":348,"t":120,"d":0.28},{"f":348,"t":140,"d":0.29},{"f":348,"t":160,"d":0.2},{"f":348,"t":180,"d":0.06},
      {"f":336,"t":0,"d":0.1},{"f":336,"t":20,"d":0.2},{"f":336,"t":40,"d":0.25},{"f":336,"t":60,"d":0.2},{"f":336,"t":80,"d":0.07},{"f":336,"t":100,"d":0.09},{"f":336,"t":120,"d":0.18},{"f":336,"t":140,"d":0.19},{"f":336,"t":160,"d":0.14},{"f":336,"t":180,"d":0.04},
      {"f":324,"t":0,"d":0.11},{"f":324,"t":20,"d":0.24},{"f":324,"t":40,"d":0.31},{"f":324,"t":60,"d":0.28},{"f":324,"t":80,"d":0.18},{"f":324,"t":100,"d":0.05},{"f":324,"t":120,"d":0.03},{"f":324,"t":140,"d":0.05},{"f":324,"t":160,"d":0.04},{"f":324,"t":180,"d":0},
      {"f":312,"t":0,"d":0.1},{"f":312,"t":20,"d":0.22},{"f":312,"t":40,"d":0.29},{"f":312,"t":60,"d":0.29},{"f":312,"t":80,"d":0.25},{"f":312,"t":100,"d":0.18},{"f":312,"t":120,"d":0.13},{"f":312,"t":140,"d":0.11},{"f":312,"t":160,"d":0.07},{"f":312,"t":180,"d":0.04},
      {"f":300,"t":0,"d":0.05},{"f":300,"t":20,"d":0.14},{"f":300,"t":40,"d":0.19},{"f":300,"t":60,"d":0.22},{"f":300,"t":80,"d":0.25},{"f":300,"t":100,"d":0.26},{"f":300,"t":120,"d":0.25},{"f":300,"t":140,"d":0.24},{"f":300,"t":160,"d":0.16},{"f":300,"t":180,"d":0.06},
      {"f":288,"t":0,"d":0},{"f":288,"t":20,"d":0.02},{"f":288,"t":40,"d":0.04},{"f":288,"t":60,"d":0.09},{"f":288,"t":80,"d":0.18},{"f":288,"t":100,"d":0.27},{"f":288,"t":120,"d":0.31},{"f":288,"t":140,"d":0.3},{"f":288,"t":160,"d":0.21},{"f":288,"t":180,"d":0.07},
      {"f":276,"t":0,"d":0.05},{"f":276,"t":20,"d":0.1},{"f":276,"t":40,"d":0.12},{"f":276,"t":60,"d":0.06},{"f":276,"t":80,"d":0.07},{"f":276,"t":100,"d":0.21},{"f":276,"t":120,"d":0.28},{"f":276,"t":140,"d":0.29},{"f":276,"t":160,"d":0.2},{"f":276,"t":180,"d":0.06},
      {"f":264,"t":0,"d":0.1},{"f":264,"t":20,"d":0.2},{"f":264,"t":40,"d":0.25},{"f":264,"t":60,"d":0.2},{"f":264,"t":80,"d":0.07},{"f":264,"t":100,"d":0.09},{"f":264,"t":120,"d":0.18},{"f":264,"t":140,"d":0.19},{"f":264,"t":160,"d":0.14},{"f":264,"t":180,"d":0.04},
      {"f":252,"t":0,"d":0.11},{"f":252,"t":20,"d":0.24},{"f":252,"t":40,"d":0.31},{"f":252,"t":60,"d":0.28},{"f":252,"t":80,"d":0.18},{"f":252,"t":100,"d":0.05},{"f":252,"t":120,"d":0.03},{"f":252,"t":140,"d":0.05},{"f":252,"t":160,"d":0.04},{"f":252,"t":180,"d":0},
      {"f":240,"t":0,"d":0.1},{"f":240,"t":20,"d":0.22},{"f":240,"t":40,"d":0.29},{"f":240,"t":60,"d":0.29},{"f":240,"t":80,"d":0.25},{"f":240,"t":100,"d":0.18},{"f":240,"t":120,"d":0.13},{"f":240,"t":140,"d":0.11},{"f":240,"t":160,"d":0.07},{"f":240,"t":180,"d":0.04},
      {"f":228,"t":0,"d":0.05},{"f":228,"t":20,"d":0.14},{"f":228,"t":40,"d":0.19},{"f":228,"t":60,"d":0.22},{"f":228,"t":80,"d":0.25},{"f":228,"t":100,"d":0.26},{"f":228,"t":120,"d":0.25},{"f":228,"t":140,"d":0.24},{"f":228,"t":160,"d":0.16},{"f":228,"t":180,"d":0.06},
      {"f":216,"t":0,"d":0},{"f":216,"t":20,"d":0.02},{"f":216,"t":40,"d":0.04},{"f":216,"t":60,"d":0.09},{"f":216,"t":80,"d":0.18},{"f":216,"t":100,"d":0.27},{"f":216,"t":120,"d":0.31},{"f":216,"t":140,"d":0.3},{"f":216,"t":160,"d":0.21},{"f":216,"t":180,"d":0.07},
      {"f":204,"t":0,"d":0.05},{"f":204,"t":20,"d":0.1},{"f":204,"t":40,"d":0.12},{"f":204,"t":60,"d":0.06},{"f":204,"t":80,"d":0.07},{"f":204,"t":100,"d":0.21},{"f":204,"t":120,"d":0.28},{"f":204,"t":140,"d":0.29},{"f":204,"t":160,"d":0.2},{"f":204,"t":180,"d":0.06},
      {"f":192,"t":0,"d":0.1},{"f":192,"t":20,"d":0.2},{"f":192,"t":40,"d":0.25},{"f":192,"t":60,"d":0.2},{"f":192,"t":80,"d":0.07},{"f":192,"t":100,"d":0.09},{"f":192,"t":120,"d":0.18},{"f":192,"t":140,"d":0.19},{"f":192,"t":160,"d":0.14},{"f":192,"t":180,"d":0.04},
      {"f":180,"t":0,"d":0.11},{"f":180,"t":20,"d":0.24},{"f":180,"t":40,"d":0.31},{"f":180,"t":60,"d":0.28},{"f":180,"t":80,"d":0.18},{"f":180,"t":100,"d":0.05},{"f":180,"t":120,"d":0.03},{"f":180,"t":140,"d":0.05},{"f":180,"t":160,"d":0.04},{"f":180,"t":180,"d":0},
      {"f":168,"t":0,"d":0.1},{"f":168,"t":20,"d":0.22},{"f":168,"t":40,"d":0.29},{"f":168,"t":60,"d":0.29},{"f":168,"t":80,"d":0.25},{"f":168,"t":100,"d":0.18},{"f":168,"t":120,"d":0.13},{"f":168,"t":140,"d":0.11},{"f":168,"t":160,"d":0.07},{"f":168,"t":180,"d":0.04},
      {"f":156,"t":0,"d":0.05},{"f":156,"t":20,"d":0.14},{"f":156,"t":40,"d":0.19},{"f":156,"t":60,"d":0.22},{"f":156,"t":80,"d":0.25},{"f":156,"t":100,"d":0.26},{"f":156,"t":120,"d":0.25},{"f":156,"t":140,"d":0.24},{"f":156,"t":160,"d":0.16},{"f":156,"t":180,"d":0.06},
      {"f":144,"t":0,"d":0},{"f":144,"t":20,"d":0.02},{"f":144,"t":40,"d":0.04},{"f":144,"t":60,"d":0.09},{"f":144,"t":80,"d":0.18},{"f":144,"t":100,"d":0.27},{"f":144,"t":120,"d":0.31},{"f":144,"t":140,"d":0.3},{"f":144,"t":160,"d":0.21},{"f":144,"t":180,"d":0.07},
      {"f":132,"t":0,"d":0.05},{"f":132,"t":20,"d":0.1},{"f":132,"t":40,"d":0.12},{"f":132,"t":60,"d":0.06},{"f":132,"t":80,"d":0.07},{"f":132,"t":100,"d":0.21},{"f":132,"t":120,"d":0.28},{"f":132,"t":140,"d":0.29},{"f":132,"t":160,"d":0.2},{"f":132,"t":180,"d":0.06},
      {"f":120,"t":0,"d":0.1},{"f":120,"t":20,"d":0.2},{"f":120,"t":40,"d":0.25},{"f":120,"t":60,"d":0.2},{"f":120,"t":80,"d":0.07},{"f":120,"t":100,"d":0.09},{"f":120,"t":120,"d":0.18},{"f":120,"t":140,"d":0.19},{"f":120,"t":160,"d":0.14},{"f":120,"t":180,"d":0.04},
      {"f":108,"t":0,"d":0.11},{"f":108,"t":20,"d":0.24},{"f":108,"t":40,"d":0.31},{"f":108,"t":60,"d":0.28},{"f":108,"t":80,"d":0.18},{"f":108,"t":100,"d":0.05},{"f":108,"t":120,"d":0.03},{"f":108,"t":140,"d":0.05},{"f":108,"t":160,"d":0.04},{"f":108,"t":180,"d":0},
      {"f":96,"t":0,"d":0.1},{"f":96,"t":20,"d":0.22},{"f":96,"t":40,"d":0.29},{"f":96,"t":60,"d":0.29},{"f":96,"t":80,"d":0.25},{"f":96,"t":100,"d":0.18},{"f":96,"t":120,"d":0.13},{"f":96,"t":140,"d":0.11},{"f":96,"t":160,"d":0.07},{"f":96,"t":180,"d":0.04},
      {"f":84,"t":0,"d":0.05},{"f":84,"t":20,"d":0.14},{"f":84,"t":40,"d":0.19},{"f":84,"t":60,"d":0.22},{"f":84,"t":80,"d":0.25},{"f":84,"t":100,"d":0.26},{"f":84,"t":120,"d":0.25},{"f":84,"t":140,"d":0.24},{"f":84,"t":160,"d":0.16},{"f":84,"t":180,"d":0.06},
      {"f":72,"t":0,"d":0},{"f":72,"t":20,"d":0.02},{"f":72,"t":40,"d":0.04},{"f":72,"t":60,"d":0.09},{"f":72,"t":80,"d":0.18},{"f":72,"t":100,"d":0.27},{"f":72,"t":120,"d":0.31},{"f":72,"t":140,"d":0.3},{"f":72,"t":160,"d":0.21},{"f":72,"t":180,"d":0.07},
      {"f":60,"t":0,"d":0.05},{"f":60,"t":20,"d":0.1},{"f":60,"t":40,"d":0.12},{"f":60,"t":60,"d":0.06},{"f":60,"t":80,"d":0.07},{"f":60,"t":100,"d":0.21},{"f":60,"t":120,"d":0.28},{"f":60,"t":140,"d":0.29},{"f":60,"t":160,"d":0.2},{"f":60,"t":180,"d":0.06},
      {"f":48,"t":0,"d":0.1},{"f":48,"t":20,"d":0.2},{"f":48,"t":40,"d":0.25},{"f":48,"t":60,"d":0.2},{"f":48,"t":80,"d":0.07},{"f":48,"t":100,"d":0.09},{"f":48,"t":120,"d":0.18},{"f":48,"t":140,"d":0.19},{"f":48,"t":160,"d":0.14},{"f":48,"t":180,"d":0.04},
      {"f":36,"t":0,"d":0.11},{"f":36,"t":20,"d":0.24},{"f":36,"t":40,"d":0.31},{"f":36,"t":60,"d":0.28},{"f":36,"t":80,"d":0.18},{"f":36,"t":100,"d":0.05},{"f":36,"t":120,"d":0.03},{"f":36,"t":140,"d":0.05},{"f":36,"t":160,"d":0.04},{"f":36,"t":180,"d":0},
      {"f":24,"t":0,"d":0.1},{"f":24,"t":20,"d":0.22},{"f":24,"t":40,"d":0.29},{"f":24,"t":60,"d":0.29},{"f":24,"t":80,"d":0.25},{"f":24,"t":100,"d":0.18},{"f":24,"t":120,"d":0.13},{"f":24,"t":140,"d":0.11},{"f":24,"t":160,"d":0.07},{"f":24,"t":180,"d":0.04},
      {"f":12,"t":0,"d":0.05},{"f":12,"t":20,"d":0.14},{"f":12,"t":40,"d":0.19},{"f":12,"t":60,"d":0.22},{"f":12,"t":80,"d":0.25},{"f":12,"t":100,"d":0.26},{"f":12,"t":120,"d":0.25},{"f":12,"t":140,"d":0.24},{"f":12,"t":160,"d":0.16},{"f":12,"t":180,"d":0.06},
      {"f":0,"t":0,"d":0},{"f":0,"t":20,"d":0.02},{"f":0,"t":40,"d":0.04},{"f":0,"t":60,"d":0.09},{"f":0,"t":80,"d":0.18},{"f":0,"t":100,"d":0.27},{"f":0,"t":120,"d":0.31},{"f":0,"t":140,"d":0.3},{"f":0,"t":160,"d":0.21},{"f":0,"t":180,"d":0.07}
    ]
  },
  "concat": [
    {
      "width": 250, "height": 163,
      "title": {"text": "φш \u00a0= \u00a053°, \u00a0α \u00a0= \u00a045°", "offset": -5, "dx": 10},
      "resolve": {"scale": {"x": "independent", "y": "independent"}},
      "layer": [
        {
          "encoding": {
            "x": {"field": "f", "type": "quantitative", "scale": {"domain": [0, 400], "range": [108, 0]}, "axis": null},
            "y": {"field": "f", "type": "quantitative", "scale": {"domain": [0, 400], "range": [163, 115]}, "axis": null}
          },
          "layer": [
            {"data": {"name": "pv"}, "mark": {"type": "rule", "x2Offset": 137}, "encoding": {"x2": {"field": "f"}}},
            {"data": {"name": "pv0"}, "mark": {"type": "rule", "xOffset": 137, "y2Offset": -109}, "encoding": {"y2": {"field": "f"}}},
            {"data": {"values": [{}]}, "mark": {"type": "rule", "color": "#777", "strokeDash": [], "strokeWidth": 0.8}, "encoding": {"x": {"datum": 0}, "x2": {"datum": 400}, "y": {"datum": 0}, "y2": {"datum": 400}}}
          ]
        },
        {
          "data": {"name": "s1"},
          "encoding": {
            "x": {"field": "t", "type": "quantitative", "scale": {"domain": [0, 200], "range": [108, 245]}, "axis": {"values": [0, 50, 100, 150, 200], "format": "d", "title": "θ", "titleX": 228, "titleY": 9}},
            "y": {"field": "d", "type": "quantitative", "stack": null, "scale": {"domain": [0, 1], "range": [115, 6]}, "axis": {"values": [0, 0.1, 0.2, 0.3, 0.4, 0.5, 0.6, 0.7, 0.8, 0.9], "format": "~g", "title": "Δα", "titleX": 1, "titleY": -2}}
          },
          "layer": [
            {"data": {"name": "lv"}, "mark": {"type": "rule", "xOffset": -108, "x2Offset": -108}, "encoding": {"x": {"datum": 0}, "x2": {"datum": 200}}},
            {"data": {"name": "lv"}, "mark": {"type": "rule", "x2Offset": -108, "yOffset": 48}, "encoding": {"x": {"datum": 200}, "x2": {"datum": 200}, "y2": {"field": "d"}}},
            {"data": {"name": "tv"}, "mark": {"type": "rule", "xOffset": -108}, "encoding": {"y": {"datum": 0}, "y2": {"datum": 1}}},
            {"data": {"name": "tv"}, "mark": {"type": "rule", "x2Offset": -108, "yOffset": 48}, "encoding": {"x2": {"field": "t"}, "y": {"datum": 0}, "y2": {"datum": 0}}},
            {"transform": [{"filter": "datum.f == 360"}], "layer": [{"mark": {"type": "area", "xOffset": -97.2, "yOffset": 4.8, "y2Offset": 4.8}, "encoding": {"y2": {"datum": 0}}}, {"mark": {"type": "line", "xOffset": -97.2, "yOffset": 4.8}}]},
            {"transform": [{"filter": "datum.f == 345"}], "layer": [{"mark": {"type": "area", "xOffset": -93.15, "yOffset": 6.6, "y2Offset": 6.6}, "encoding": {"y2": {"datum": 0}}}, {"mark": {"type": "line", "xOffset": -93.15, "yOffset": 6.6}}]},
            {"transform": [{"filter": "datum.f == 330"}], "layer": [{"mark": {"type": "area", "xOffset": -89.1, "yOffset": 8.4, "y2Offset": 8.4}, "encoding": {"y2": {"datum": 0}}}, {"mark": {"type": "line", "xOffset": -89.1, "yOffset": 8.4}}]},
            {"transform": [{"filter": "datum.f == 315"}], "layer": [{"mark": {"type": "area", "xOffset": -85.05, "yOffset": 10.2, "y2Offset": 10.2}, "encoding": {"y2": {"datum": 0}}}, {"mark": {"type": "line", "xOffset": -85.05, "yOffset": 10.2}}]},
            {"transform": [{"filter": "datum.f == 300"}], "layer": [{"mark": {"type": "area", "xOffset": -81, "yOffset": 12, "y2Offset": 12}, "encoding": {"y2": {"datum": 0}}}, {"mark": {"type": "line", "xOffset": -81, "yOffset": 12}}]},
            {"transform": [{"filter": "datum.f == 285"}], "layer": [{"mark": {"type": "area", "xOffset": -76.95, "yOffset": 13.8, "y2Offset": 13.8}, "encoding": {"y2": {"datum": 0}}}, {"mark": {"type": "line", "xOffset": -76.95, "yOffset": 13.8}}]},
            {"transform": [{"filter": "datum.f == 270"}], "layer": [{"mark": {"type": "area", "xOffset": -72.9, "yOffset": 15.6, "y2Offset": 15.6}, "encoding": {"y2": {"datum": 0}}}, {"mark": {"type": "line", "xOffset": -72.9, "yOffset": 15.6}}]},
            {"transform": [{"filter": "datum.f == 255"}], "layer": [{"mark": {"type": "area", "xOffset": -68.85, "yOffset": 17.4, "y2Offset": 17.4}, "encoding": {"y2": {"datum": 0}}}, {"mark": {"type": "line", "xOffset": -68.85, "yOffset": 17.4}}]},
            {"transform": [{"filter": "datum.f == 240"}], "layer": [{"mark": {"type": "area", "xOffset": -64.8, "yOffset": 19.2, "y2Offset": 19.2}, "encoding": {"y2": {"datum": 0}}}, {"mark": {"type": "line", "xOffset": -64.8, "yOffset": 19.2}}]},
            {"transform": [{"filter": "datum.f == 225"}], "layer": [{"mark": {"type": "area", "xOffset": -60.75, "yOffset": 21, "y2Offset": 21}, "encoding": {"y2": {"datum": 0}}}, {"mark": {"type": "line", "xOffset": -60.75, "yOffset": 21}}]},
            {"transform": [{"filter": "datum.f == 210"}], "layer": [{"mark": {"type": "area", "xOffset": -56.7, "yOffset": 22.8, "y2Offset": 22.8}, "encoding": {"y2": {"datum": 0}}}, {"mark": {"type": "line", "xOffset": -56.7, "yOffset": 22.8}}]},
            {"transform": [{"filter": "datum.f == 195"}], "layer": [{"mark": {"type": "area", "xOffset": -52.65, "yOffset": 24.6, "y2Offset": 24.6}, "encoding": {"y2": {"datum": 0}}}, {"mark": {"type": "line", "xOffset": -52.65, "yOffset": 24.6}}]},
            {"transform": [{"filter": "datum.f == 180"}], "layer": [{"mark": {"type": "area", "xOffset": -48.6, "yOffset": 26.4, "y2Offset": 26.4}, "encoding": {"y2": {"datum": 0}}}, {"mark": {"type": "line", "xOffset": -48.6, "yOffset": 26.4}}]},
            {"transform": [{"filter": "datum.f == 165"}], "layer": [{"mark": {"type": "area", "xOffset": -44.55, "yOffset": 28.2, "y2Offset": 28.2}, "encoding": {"y2": {"datum": 0}}}, {"mark": {"type": "line", "xOffset": -44.55, "yOffset": 28.2}}]},
            {"transform": [{"filter": "datum.f == 150"}], "layer": [{"mark": {"type": "area", "xOffset": -40.5, "yOffset": 30, "y2Offset": 30}, "encoding": {"y2": {"datum": 0}}}, {"mark": {"type": "line", "xOffset": -40.5, "yOffset": 30}}]},
            {"transform": [{"filter": "datum.f == 135"}], "layer": [{"mark": {"type": "area", "xOffset": -36.45, "yOffset": 31.8, "y2Offset": 31.8}, "encoding": {"y2": {"datum": 0}}}, {"mark": {"type": "line", "xOffset": -36.45, "yOffset": 31.8}}]},
            {"transform": [{"filter": "datum.f == 120"}], "layer": [{"mark": {"type": "area", "xOffset": -32.4, "yOffset": 33.6, "y2Offset": 33.6}, "encoding": {"y2": {"datum": 0}}}, {"mark": {"type": "line", "xOffset": -32.4, "yOffset": 33.6}}]},
            {"transform": [{"filter": "datum.f == 105"}], "layer": [{"mark": {"type": "area", "xOffset": -28.35, "yOffset": 35.4, "y2Offset": 35.4}, "encoding": {"y2": {"datum": 0}}}, {"mark": {"type": "line", "xOffset": -28.35, "yOffset": 35.4}}]},
            {"transform": [{"filter": "datum.f == 90"}], "layer": [{"mark": {"type": "area", "xOffset": -24.3, "yOffset": 37.2, "y2Offset": 37.2}, "encoding": {"y2": {"datum": 0}}}, {"mark": {"type": "line", "xOffset": -24.3, "yOffset": 37.2}}]},
            {"transform": [{"filter": "datum.f == 75"}], "layer": [{"mark": {"type": "area", "xOffset": -20.25, "yOffset": 39, "y2Offset": 39}, "encoding": {"y2": {"datum": 0}}}, {"mark": {"type": "line", "xOffset": -20.25, "yOffset": 39}}]},
            {"transform": [{"filter": "datum.f == 60"}], "layer": [{"mark": {"type": "area", "xOffset": -16.2, "yOffset": 40.8, "y2Offset": 40.8}, "encoding": {"y2": {"datum": 0}}}, {"mark": {"type": "line", "xOffset": -16.2, "yOffset": 40.8}}]},
            {"transform": [{"filter": "datum.f == 45"}], "layer": [{"mark": {"type": "area", "xOffset": -12.15, "yOffset": 42.6, "y2Offset": 42.6}, "encoding": {"y2": {"datum": 0}}}, {"mark": {"type": "line", "xOffset": -12.15, "yOffset": 42.6}}]},
            {"transform": [{"filter": "datum.f == 30"}], "layer": [{"mark": {"type": "area", "xOffset": -8.1, "yOffset": 44.4, "y2Offset": 44.4}, "encoding": {"y2": {"datum": 0}}}, {"mark": {"type": "line", "xOffset": -8.1, "yOffset": 44.4}}]},
            {"transform": [{"filter": "datum.f == 15"}], "layer": [{"mark": {"type": "area", "xOffset": -4.05, "yOffset": 46.2, "y2Offset": 46.2}, "encoding": {"y2": {"datum": 0}}}, {"mark": {"type": "line", "xOffset": -4.05, "yOffset": 46.2}}]},
            {"transform": [{"filter": "datum.f == 0"}], "layer": [{"mark": {"type": "area", "xOffset": 0, "yOffset": 48, "y2Offset": 48}, "encoding": {"y2": {"datum": 0}}}, {"mark": {"type": "line", "xOffset": 0, "yOffset": 48}}]}
          ]
        },
        {
          "encoding": {
            "x": {"field": "f", "type": "quantitative", "scale": {"domain": [0, 400], "range": [108, 0]}, "axis": null},
            "y": {"field": "f", "type": "quantitative", "scale": {"domain": [0, 400], "range": [163, 115]}, "axis": null}
          },
          "layer": [
            {"data": {"name": "pt"}, "mark": {"type": "text", "font": "Liberation Sans", "fontSize": 7, "color": "#333", "dx": -10, "dy": 6}, "encoding": {"text": {"field": "f", "type": "quantitative", "format": "d"}}},
            {"data": {"values": [{}]}, "mark": {"type": "text", "text": "φ", "font": "Liberation Serif", "fontSize": 22, "fontWeight": "bold", "color": "#000", "dx": -5, "dy": 24}, "encoding": {"x": {"datum": 300}, "y": {"datum": 300}}}
          ]
        }
      ]
    },
    {
      "width": 240, "height": 163,
      "title": {"text": "φш \u00a0= \u00a067°, \u00a0α \u00a0= \u00a0120°", "offset": 9, "dx": 7},
      "resolve": {"scale": {"x": "independent", "y": "independent"}},
      "layer": [
        {
          "encoding": {
            "x": {"field": "f", "type": "quantitative", "scale": {"domain": [0, 400], "range": [103, 0]}, "axis": null},
            "y": {"field": "f", "type": "quantitative", "scale": {"domain": [0, 400], "range": [163, 119]}, "axis": null}
          },
          "layer": [
            {"data": {"name": "pv"}, "mark": {"type": "rule", "x2Offset": 132}, "encoding": {"x2": {"field": "f"}}},
            {"data": {"name": "pv0"}, "mark": {"type": "rule", "xOffset": 132, "y2Offset": -94.4}, "encoding": {"y2": {"field": "f"}}},
            {"data": {"values": [{}]}, "mark": {"type": "rule", "color": "#777", "strokeDash": [], "strokeWidth": 0.8}, "encoding": {"x": {"datum": 0}, "x2": {"datum": 400}, "y": {"datum": 0}, "y2": {"datum": 400}}}
          ]
        },
        {
          "data": {"name": "s2"},
          "encoding": {
            "x": {"field": "t", "type": "quantitative", "scale": {"domain": [0, 200], "range": [103, 235]}, "axis": {"values": [0, 50, 100, 150, 200], "format": "d", "title": "θ", "titleX": 218, "titleY": 9}},
            "y": {"field": "d", "type": "quantitative", "stack": null, "scale": {"domain": [0, 0.4], "range": [119, 24.6]}, "axis": {"values": [0, 0.1, 0.2, 0.3], "format": "~g", "title": "Δα", "titleX": 3, "titleY": 17}}
          },
          "layer": [
            {"data": {"name": "lv"}, "transform": [{"filter": "datum.d <= 0.4"}], "mark": {"type": "rule", "xOffset": -103, "x2Offset": -103}, "encoding": {"x": {"datum": 0}, "x2": {"datum": 200}}},
            {"data": {"name": "lv"}, "transform": [{"filter": "datum.d <= 0.4"}], "mark": {"type": "rule", "x2Offset": -103, "yOffset": 44}, "encoding": {"x": {"datum": 200}, "x2": {"datum": 200}, "y2": {"field": "d"}}},
            {"data": {"name": "tv"}, "mark": {"type": "rule", "xOffset": -103}, "encoding": {"y": {"datum": 0}, "y2": {"datum": 0.4}}},
            {"data": {"name": "tv"}, "mark": {"type": "rule", "x2Offset": -103, "yOffset": 44}, "encoding": {"x2": {"field": "t"}, "y": {"datum": 0}, "y2": {"datum": 0}}},
            {"transform": [{"filter": "datum.f == 360"}], "layer": [{"mark": {"type": "area", "xOffset": -92.7, "yOffset": 4.4, "y2Offset": 4.4}, "encoding": {"y2": {"datum": 0}}}, {"mark": {"type": "line", "xOffset": -92.7, "yOffset": 4.4}}]},
            {"transform": [{"filter": "datum.f == 348"}], "layer": [{"mark": {"type": "area", "xOffset": -89.61, "yOffset": 5.72, "y2Offset": 5.72}, "encoding": {"y2": {"datum": 0}}}, {"mark": {"type": "line", "xOffset": -89.61, "yOffset": 5.72}}]},
            {"transform": [{"filter": "datum.f == 336"}], "layer": [{"mark": {"type": "area", "xOffset": -86.52, "yOffset": 7.04, "y2Offset": 7.04}, "encoding": {"y2": {"datum": 0}}}, {"mark": {"type": "line", "xOffset": -86.52, "yOffset": 7.04}}]},
            {"transform": [{"filter": "datum.f == 324"}], "layer": [{"mark": {"type": "area", "xOffset": -83.43, "yOffset": 8.36, "y2Offset": 8.36}, "encoding": {"y2": {"datum": 0}}}, {"mark": {"type": "line", "xOffset": -83.43, "yOffset": 8.36}}]},
            {"transform": [{"filter": "datum.f == 312"}], "layer": [{"mark": {"type": "area", "xOffset": -80.34, "yOffset": 9.68, "y2Offset": 9.68}, "encoding": {"y2": {"datum": 0}}}, {"mark": {"type": "line", "xOffset": -80.34, "yOffset": 9.68}}]},
            {"transform": [{"filter": "datum.f == 300"}], "layer": [{"mark": {"type": "area", "xOffset": -77.25, "yOffset": 11, "y2Offset": 11}, "encoding": {"y2": {"datum": 0}}}, {"mark": {"type": "line", "xOffset": -77.25, "yOffset": 11}}]},
            {"transform": [{"filter": "datum.f == 288"}], "layer": [{"mark": {"type": "area", "xOffset": -74.16, "yOffset": 12.32, "y2Offset": 12.32}, "encoding": {"y2": {"datum": 0}}}, {"mark": {"type": "line", "xOffset": -74.16, "yOffset": 12.32}}]},
            {"transform": [{"filter": "datum.f == 276"}], "layer": [{"mark": {"type": "area", "xOffset": -71.07, "yOffset": 13.64, "y2Offset": 13.64}, "encoding": {"y2": {"datum": 0}}}, {"mark": {"type": "line", "xOffset": -71.07, "yOffset": 13.64}}]},
            {"transform": [{"filter": "datum.f == 264"}], "layer": [{"mark": {"type": "area", "xOffset": -67.98, "yOffset": 14.96, "y2Offset": 14.96}, "encoding": {"y2": {"datum": 0}}}, {"mark": {"type": "line", "xOffset": -67.98, "yOffset": 14.96}}]},
            {"transform": [{"filter": "datum.f == 252"}], "layer": [{"mark": {"type": "area", "xOffset": -64.89, "yOffset": 16.28, "y2Offset": 16.28}, "encoding": {"y2": {"datum": 0}}}, {"mark": {"type": "line", "xOffset": -64.89, "yOffset": 16.28}}]},
            {"transform": [{"filter": "datum.f == 240"}], "layer": [{"mark": {"type": "area", "xOffset": -61.8, "yOffset": 17.6, "y2Offset": 17.6}, "encoding": {"y2": {"datum": 0}}}, {"mark": {"type": "line", "xOffset": -61.8, "yOffset": 17.6}}]},
            {"transform": [{"filter": "datum.f == 228"}], "layer": [{"mark": {"type": "area", "xOffset": -58.71, "yOffset": 18.92, "y2Offset": 18.92}, "encoding": {"y2": {"datum": 0}}}, {"mark": {"type": "line", "xOffset": -58.71, "yOffset": 18.92}}]},
            {"transform": [{"filter": "datum.f == 216"}], "layer": [{"mark": {"type": "area", "xOffset": -55.62, "yOffset": 20.24, "y2Offset": 20.24}, "encoding": {"y2": {"datum": 0}}}, {"mark": {"type": "line", "xOffset": -55.62, "yOffset": 20.24}}]},
            {"transform": [{"filter": "datum.f == 204"}], "layer": [{"mark": {"type": "area", "xOffset": -52.53, "yOffset": 21.56, "y2Offset": 21.56}, "encoding": {"y2": {"datum": 0}}}, {"mark": {"type": "line", "xOffset": -52.53, "yOffset": 21.56}}]},
            {"transform": [{"filter": "datum.f == 192"}], "layer": [{"mark": {"type": "area", "xOffset": -49.44, "yOffset": 22.88, "y2Offset": 22.88}, "encoding": {"y2": {"datum": 0}}}, {"mark": {"type": "line", "xOffset": -49.44, "yOffset": 22.88}}]},
            {"transform": [{"filter": "datum.f == 180"}], "layer": [{"mark": {"type": "area", "xOffset": -46.35, "yOffset": 24.2, "y2Offset": 24.2}, "encoding": {"y2": {"datum": 0}}}, {"mark": {"type": "line", "xOffset": -46.35, "yOffset": 24.2}}]},
            {"transform": [{"filter": "datum.f == 168"}], "layer": [{"mark": {"type": "area", "xOffset": -43.26, "yOffset": 25.52, "y2Offset": 25.52}, "encoding": {"y2": {"datum": 0}}}, {"mark": {"type": "line", "xOffset": -43.26, "yOffset": 25.52}}]},
            {"transform": [{"filter": "datum.f == 156"}], "layer": [{"mark": {"type": "area", "xOffset": -40.17, "yOffset": 26.84, "y2Offset": 26.84}, "encoding": {"y2": {"datum": 0}}}, {"mark": {"type": "line", "xOffset": -40.17, "yOffset": 26.84}}]},
            {"transform": [{"filter": "datum.f == 144"}], "layer": [{"mark": {"type": "area", "xOffset": -37.08, "yOffset": 28.16, "y2Offset": 28.16}, "encoding": {"y2": {"datum": 0}}}, {"mark": {"type": "line", "xOffset": -37.08, "yOffset": 28.16}}]},
            {"transform": [{"filter": "datum.f == 132"}], "layer": [{"mark": {"type": "area", "xOffset": -33.99, "yOffset": 29.48, "y2Offset": 29.48}, "encoding": {"y2": {"datum": 0}}}, {"mark": {"type": "line", "xOffset": -33.99, "yOffset": 29.48}}]},
            {"transform": [{"filter": "datum.f == 120"}], "layer": [{"mark": {"type": "area", "xOffset": -30.9, "yOffset": 30.8, "y2Offset": 30.8}, "encoding": {"y2": {"datum": 0}}}, {"mark": {"type": "line", "xOffset": -30.9, "yOffset": 30.8}}]},
            {"transform": [{"filter": "datum.f == 108"}], "layer": [{"mark": {"type": "area", "xOffset": -27.81, "yOffset": 32.12, "y2Offset": 32.12}, "encoding": {"y2": {"datum": 0}}}, {"mark": {"type": "line", "xOffset": -27.81, "yOffset": 32.12}}]},
            {"transform": [{"filter": "datum.f == 96"}], "layer": [{"mark": {"type": "area", "xOffset": -24.72, "yOffset": 33.44, "y2Offset": 33.44}, "encoding": {"y2": {"datum": 0}}}, {"mark": {"type": "line", "xOffset": -24.72, "yOffset": 33.44}}]},
            {"transform": [{"filter": "datum.f == 84"}], "layer": [{"mark": {"type": "area", "xOffset": -21.63, "yOffset": 34.76, "y2Offset": 34.76}, "encoding": {"y2": {"datum": 0}}}, {"mark": {"type": "line", "xOffset": -21.63, "yOffset": 34.76}}]},
            {"transform": [{"filter": "datum.f == 72"}], "layer": [{"mark": {"type": "area", "xOffset": -18.54, "yOffset": 36.08, "y2Offset": 36.08}, "encoding": {"y2": {"datum": 0}}}, {"mark": {"type": "line", "xOffset": -18.54, "yOffset": 36.08}}]},
            {"transform": [{"filter": "datum.f == 60"}], "layer": [{"mark": {"type": "area", "xOffset": -15.45, "yOffset": 37.4, "y2Offset": 37.4}, "encoding": {"y2": {"datum": 0}}}, {"mark": {"type": "line", "xOffset": -15.45, "yOffset": 37.4}}]},
            {"transform": [{"filter": "datum.f == 48"}], "layer": [{"mark": {"type": "area", "xOffset": -12.36, "yOffset": 38.72, "y2Offset": 38.72}, "encoding": {"y2": {"datum": 0}}}, {"mark": {"type": "line", "xOffset": -12.36, "yOffset": 38.72}}]},
            {"transform": [{"filter": "datum.f == 36"}], "layer": [{"mark": {"type": "area", "xOffset": -9.27, "yOffset": 40.04, "y2Offset": 40.04}, "encoding": {"y2": {"datum": 0}}}, {"mark": {"type": "line", "xOffset": -9.27, "yOffset": 40.04}}]},
            {"transform": [{"filter": "datum.f == 24"}], "layer": [{"mark": {"type": "area", "xOffset": -6.18, "yOffset": 41.36, "y2Offset": 41.36}, "encoding": {"y2": {"datum": 0}}}, {"mark": {"type": "line", "xOffset": -6.18, "yOffset": 41.36}}]},
            {"transform": [{"filter": "datum.f == 12"}], "layer": [{"mark": {"type": "area", "xOffset": -3.09, "yOffset": 42.68, "y2Offset": 42.68}, "encoding": {"y2": {"datum": 0}}}, {"mark": {"type": "line", "xOffset": -3.09, "yOffset": 42.68}}]},
            {"transform": [{"filter": "datum.f == 0"}], "layer": [{"mark": {"type": "area", "xOffset": 0, "yOffset": 44, "y2Offset": 44}, "encoding": {"y2": {"datum": 0}}}, {"mark": {"type": "line", "xOffset": 0, "yOffset": 44}}]}
          ]
        },
        {
          "encoding": {
            "x": {"field": "f", "type": "quantitative", "scale": {"domain": [0, 400], "range": [103, 0]}, "axis": null},
            "y": {"field": "f", "type": "quantitative", "scale": {"domain": [0, 400], "range": [163, 119]}, "axis": null}
          },
          "layer": [
            {"data": {"name": "pt"}, "mark": {"type": "text", "font": "Liberation Sans", "fontSize": 7, "color": "#333", "dx": -10, "dy": 6}, "encoding": {"text": {"field": "f", "type": "quantitative", "format": "d"}}},
            {"data": {"values": [{}]}, "mark": {"type": "text", "text": "φ", "font": "Liberation Serif", "fontSize": 22, "fontWeight": "bold", "color": "#000", "dx": -10.5, "dy": 27}, "encoding": {"x": {"datum": 200}, "y": {"datum": 200}}}
          ]
        }
      ]
    },
    {
      "width": 258, "height": 170,
      "title": {"text": "φш \u00a0= \u00a061°, \u00a0α \u00a0= \u00a045°", "offset": 6, "dx": 13},
      "resolve": {"scale": {"x": "independent", "y": "independent"}},
      "layer": [
        {
          "encoding": {
            "x": {"field": "f", "type": "quantitative", "scale": {"domain": [0, 400], "range": [121, 13]}, "axis": null},
            "y": {"field": "f", "type": "quantitative", "scale": {"domain": [0, 400], "range": [170, 120]}, "axis": null}
          },
          "layer": [
            {"data": {"name": "pv"}, "mark": {"type": "rule", "x2Offset": 135}, "encoding": {"x2": {"field": "f"}}},
            {"data": {"name": "pv0"}, "mark": {"type": "rule", "xOffset": 135, "y2Offset": -110.6}, "encoding": {"y2": {"field": "f"}}},
            {"data": {"values": [{}]}, "mark": {"type": "rule", "color": "#777", "strokeDash": [], "strokeWidth": 0.8}, "encoding": {"x": {"datum": 0}, "x2": {"datum": 400}, "y": {"datum": 0}, "y2": {"datum": 400}}}
          ]
        },
        {
          "data": {"name": "s3"},
          "encoding": {
            "x": {"field": "t", "type": "quantitative", "scale": {"domain": [0, 200], "range": [121, 256]}, "axis": {"values": [0, 50, 100, 150, 200], "format": "d", "title": "θ", "titleX": 239, "titleY": 5}},
            "y": {"field": "d", "type": "quantitative", "stack": null, "scale": {"domain": [0, 0.7], "range": [120, 9.4]}, "axis": {"values": [0, 0.1, 0.2, 0.3, 0.4, 0.5, 0.6], "format": "~g", "offset": -13, "title": "Δα", "titleX": -4, "titleY": -1}}
          },
          "layer": [
            {"data": {"name": "lv"}, "transform": [{"filter": "datum.d <= 0.7"}], "mark": {"type": "rule", "xOffset": -108, "x2Offset": -108}, "encoding": {"x": {"datum": 0}, "x2": {"datum": 200}}},
            {"data": {"name": "lv"}, "transform": [{"filter": "datum.d <= 0.7"}], "mark": {"type": "rule", "x2Offset": -108, "yOffset": 50}, "encoding": {"x": {"datum": 200}, "x2": {"datum": 200}, "y2": {"field": "d"}}},
            {"data": {"name": "tv"}, "mark": {"type": "rule", "xOffset": -108}, "encoding": {"y": {"datum": 0}, "y2": {"datum": 0.7}}},
            {"data": {"name": "tv"}, "mark": {"type": "rule", "x2Offset": -108, "yOffset": 50}, "encoding": {"x2": {"field": "t"}, "y": {"datum": 0}, "y2": {"datum": 0}}},
            {"transform": [{"filter": "datum.f == 360"}], "layer": [{"mark": {"type": "area", "xOffset": -97.2, "yOffset": 5, "y2Offset": 5}, "encoding": {"y2": {"datum": 0}}}, {"mark": {"type": "line", "xOffset": -97.2, "yOffset": 5}}]},
            {"transform": [{"filter": "datum.f == 345"}], "layer": [{"mark": {"type": "area", "xOffset": -93.15, "yOffset": 6.88, "y2Offset": 6.88}, "encoding": {"y2": {"datum": 0}}}, {"mark": {"type": "line", "xOffset": -93.15, "yOffset": 6.88}}]},
            {"transform": [{"filter": "datum.f == 330"}], "layer": [{"mark": {"type": "area", "xOffset": -89.1, "yOffset": 8.75, "y2Offset": 8.75}, "encoding": {"y2": {"datum": 0}}}, {"mark": {"type": "line", "xOffset": -89.1, "yOffset": 8.75}}]},
            {"transform": [{"filter": "datum.f == 315"}], "layer": [{"mark": {"type": "area", "xOffset": -85.05, "yOffset": 10.63, "y2Offset": 10.63}, "encoding": {"y2": {"datum": 0}}}, {"mark": {"type": "line", "xOffset": -85.05, "yOffset": 10.63}}]},
            {"transform": [{"filter": "datum.f == 300"}], "layer": [{"mark": {"type": "area", "xOffset": -81, "yOffset": 12.5, "y2Offset": 12.5}, "encoding": {"y2": {"datum": 0}}}, {"mark": {"type": "line", "xOffset": -81, "yOffset": 12.5}}]},
            {"transform": [{"filter": "datum.f == 285"}], "layer": [{"mark": {"type": "area", "xOffset": -76.95, "yOffset": 14.38, "y2Offset": 14.38}, "encoding": {"y2": {"datum": 0}}}, {"mark": {"type": "line", "xOffset": -76.95, "yOffset": 14.38}}]},
            {"transform": [{"filter": "datum.f == 270"}], "layer": [{"mark": {"type": "area", "xOffset": -72.9, "yOffset": 16.25, "y2Offset": 16.25}, "encoding": {"y2": {"datum": 0}}}, {"mark": {"type": "line", "xOffset": -72.9, "yOffset": 16.25}}]},
            {"transform": [{"filter": "datum.f == 255"}], "layer": [{"mark": {"type": "area", "xOffset": -68.85, "yOffset": 18.13, "y2Offset": 18.13}, "encoding": {"y2": {"datum": 0}}}, {"mark": {"type": "line", "xOffset": -68.85, "yOffset": 18.13}}]},
            {"transform": [{"filter": "datum.f == 240"}], "layer": [{"mark": {"type": "area", "xOffset": -64.8, "yOffset": 20, "y2Offset": 20}, "encoding": {"y2": {"datum": 0}}}, {"mark": {"type": "line", "xOffset": -64.8, "yOffset": 20}}]},
            {"transform": [{"filter": "datum.f == 225"}], "layer": [{"mark": {"type": "area", "xOffset": -60.75, "yOffset": 21.88, "y2Offset": 21.88}, "encoding": {"y2": {"datum": 0}}}, {"mark": {"type": "line", "xOffset": -60.75, "yOffset": 21.88}}]},
            {"transform": [{"filter": "datum.f == 210"}], "layer": [{"mark": {"type": "area", "xOffset": -56.7, "yOffset": 23.75, "y2Offset": 23.75}, "encoding": {"y2": {"datum": 0}}}, {"mark": {"type": "line", "xOffset": -56.7, "yOffset": 23.75}}]},
            {"transform": [{"filter": "datum.f == 195"}], "layer": [{"mark": {"type": "area", "xOffset": -52.65, "yOffset": 25.63, "y2Offset": 25.63}, "encoding": {"y2": {"datum": 0}}}, {"mark": {"type": "line", "xOffset": -52.65, "yOffset": 25.63}}]},
            {"transform": [{"filter": "datum.f == 180"}], "layer": [{"mark": {"type": "area", "xOffset": -48.6, "yOffset": 27.5, "y2Offset": 27.5}, "encoding": {"y2": {"datum": 0}}}, {"mark": {"type": "line", "xOffset": -48.6, "yOffset": 27.5}}]},
            {"transform": [{"filter": "datum.f == 165"}], "layer": [{"mark": {"type": "area", "xOffset": -44.55, "yOffset": 29.38, "y2Offset": 29.38}, "encoding": {"y2": {"datum": 0}}}, {"mark": {"type": "line", "xOffset": -44.55, "yOffset": 29.38}}]},
            {"transform": [{"filter": "datum.f == 150"}], "layer": [{"mark": {"type": "area", "xOffset": -40.5, "yOffset": 31.25, "y2Offset": 31.25}, "encoding": {"y2": {"datum": 0}}}, {"mark": {"type": "line", "xOffset": -40.5, "yOffset": 31.25}}]},
            {"transform": [{"filter": "datum.f == 135"}], "layer": [{"mark": {"type": "area", "xOffset": -36.45, "yOffset": 33.13, "y2Offset": 33.13}, "encoding": {"y2": {"datum": 0}}}, {"mark": {"type": "line", "xOffset": -36.45, "yOffset": 33.13}}]},
            {"transform": [{"filter": "datum.f == 120"}], "layer": [{"mark": {"type": "area", "xOffset": -32.4, "yOffset": 35, "y2Offset": 35}, "encoding": {"y2": {"datum": 0}}}, {"mark": {"type": "line", "xOffset": -32.4, "yOffset": 35}}]},
            {"transform": [{"filter": "datum.f == 105"}], "layer": [{"mark": {"type": "area", "xOffset": -28.35, "yOffset": 36.88, "y2Offset": 36.88}, "encoding": {"y2": {"datum": 0}}}, {"mark": {"type": "line", "xOffset": -28.35, "yOffset": 36.88}}]},
            {"transform": [{"filter": "datum.f == 90"}], "layer": [{"mark": {"type": "area", "xOffset": -24.3, "yOffset": 38.75, "y2Offset": 38.75}, "encoding": {"y2": {"datum": 0}}}, {"mark": {"type": "line", "xOffset": -24.3, "yOffset": 38.75}}]},
            {"transform": [{"filter": "datum.f == 75"}], "layer": [{"mark": {"type": "area", "xOffset": -20.25, "yOffset": 40.63, "y2Offset": 40.63}, "encoding": {"y2": {"datum": 0}}}, {"mark": {"type": "line", "xOffset": -20.25, "yOffset": 40.63}}]},
            {"transform": [{"filter": "datum.f == 60"}], "layer": [{"mark": {"type": "area", "xOffset": -16.2, "yOffset": 42.5, "y2Offset": 42.5}, "encoding": {"y2": {"datum": 0}}}, {"mark": {"type": "line", "xOffset": -16.2, "yOffset": 42.5}}]},
            {"transform": [{"filter": "datum.f == 45"}], "layer": [{"mark": {"type": "area", "xOffset": -12.15, "yOffset": 44.38, "y2Offset": 44.38}, "encoding": {"y2": {"datum": 0}}}, {"mark": {"type": "line", "xOffset": -12.15, "yOffset": 44.38}}]},
            {"transform": [{"filter": "datum.f == 30"}], "layer": [{"mark": {"type": "area", "xOffset": -8.1, "yOffset": 46.25, "y2Offset": 46.25}, "encoding": {"y2": {"datum": 0}}}, {"mark": {"type": "line", "xOffset": -8.1, "yOffset": 46.25}}]},
            {"transform": [{"filter": "datum.f == 15"}], "layer": [{"mark": {"type": "area", "xOffset": -4.05, "yOffset": 48.13, "y2Offset": 48.13}, "encoding": {"y2": {"datum": 0}}}, {"mark": {"type": "line", "xOffset": -4.05, "yOffset": 48.13}}]},
            {"transform": [{"filter": "datum.f == 0"}], "layer": [{"mark": {"type": "area", "xOffset": 0, "yOffset": 50, "y2Offset": 50}, "encoding": {"y2": {"datum": 0}}}, {"mark": {"type": "line", "xOffset": 0, "yOffset": 50}}]}
          ]
        },
        {
          "encoding": {
            "x": {"field": "f", "type": "quantitative", "scale": {"domain": [0, 400], "range": [121, 13]}, "axis": null},
            "y": {"field": "f", "type": "quantitative", "scale": {"domain": [0, 400], "range": [170, 120]}, "axis": null}
          },
          "layer": [
            {"data": {"name": "pt"}, "mark": {"type": "text", "font": "Liberation Sans", "fontSize": 7, "color": "#333", "dx": -10, "dy": 6}, "encoding": {"text": {"field": "f", "type": "quantitative", "format": "d"}}},
            {"data": {"values": [{}]}, "mark": {"type": "text", "text": "φ", "font": "Liberation Serif", "fontSize": 22, "fontWeight": "bold", "color": "#000", "dx": -13, "dy": 25.5}, "encoding": {"x": {"datum": 300}, "y": {"datum": 300}}}
          ]
        }
      ]
    },
    {
      "width": 240, "height": 170,
      "title": {"text": "φш \u00a0= \u00a057°, \u00a0α \u00a0= \u00a0120°", "offset": 5, "dx": 10},
      "resolve": {"scale": {"x": "independent", "y": "independent"}},
      "layer": [
        {
          "encoding": {
            "x": {"field": "f", "type": "quantitative", "scale": {"domain": [0, 400], "range": [100, 0]}, "axis": null},
            "y": {"field": "f", "type": "quantitative", "scale": {"domain": [0, 400], "range": [170, 117]}, "axis": null}
          },
          "layer": [
            {"data": {"name": "pv"}, "mark": {"type": "rule", "x2Offset": 135}, "encoding": {"x2": {"field": "f"}}},
            {"data": {"name": "pv0"}, "mark": {"type": "rule", "xOffset": 135, "y2Offset": -105}, "encoding": {"y2": {"field": "f"}}},
            {"data": {"values": [{}]}, "mark": {"type": "rule", "color": "#777", "strokeDash": [], "strokeWidth": 0.8}, "encoding": {"x": {"datum": 0}, "x2": {"datum": 400}, "y": {"datum": 0}, "y2": {"datum": 400}}}
          ]
        },
        {
          "data": {"name": "s4"},
          "encoding": {
            "x": {"field": "t", "type": "quantitative", "scale": {"domain": [0, 200], "range": [100, 235]}, "axis": {"values": [0, 50, 100, 150, 200], "format": "d", "title": "θ", "titleX": 218, "titleY": 5}},
            "y": {"field": "d", "type": "quantitative", "stack": null, "scale": {"domain": [0, 0.4], "range": [117, 12]}, "axis": {"labels": false, "ticks": false, "title": "Δα", "titleX": 0, "titleY": -2}}
          },
          "layer": [
            {"data": {"name": "lv4"}, "mark": {"type": "rule", "xOffset": -100, "x2Offset": -100}, "encoding": {"x": {"datum": 0}, "x2": {"datum": 200}}},
            {"data": {"name": "lv4"}, "mark": {"type": "rule", "x2Offset": -100, "yOffset": 53}, "encoding": {"x": {"datum": 200}, "x2": {"datum": 200}, "y2": {"field": "d"}}},
            {"data": {"name": "tv"}, "mark": {"type": "rule", "xOffset": -100}, "encoding": {"y": {"datum": 0}, "y2": {"datum": 0.4}}},
            {"data": {"name": "tv"}, "mark": {"type": "rule", "x2Offset": -100, "yOffset": 53}, "encoding": {"x2": {"field": "t"}, "y": {"datum": 0}, "y2": {"datum": 0}}},
            {"transform": [{"filter": "datum.f == 360"}], "layer": [{"mark": {"type": "area", "xOffset": -90, "yOffset": 5.3, "y2Offset": 5.3}, "encoding": {"y2": {"datum": 0}}}, {"mark": {"type": "line", "xOffset": -90, "yOffset": 5.3}}]},
            {"transform": [{"filter": "datum.f == 348"}], "layer": [{"mark": {"type": "area", "xOffset": -87, "yOffset": 6.89, "y2Offset": 6.89}, "encoding": {"y2": {"datum": 0}}}, {"mark": {"type": "line", "xOffset": -87, "yOffset": 6.89}}]},
            {"transform": [{"filter": "datum.f == 336"}], "layer": [{"mark": {"type": "area", "xOffset": -84, "yOffset": 8.48, "y2Offset": 8.48}, "encoding": {"y2": {"datum": 0}}}, {"mark": {"type": "line", "xOffset": -84, "yOffset": 8.48}}]},
            {"transform": [{"filter": "datum.f == 324"}], "layer": [{"mark": {"type": "area", "xOffset": -81, "yOffset": 10.07, "y2Offset": 10.07}, "encoding": {"y2": {"datum": 0}}}, {"mark": {"type": "line", "xOffset": -81, "yOffset": 10.07}}]},
            {"transform": [{"filter": "datum.f == 312"}], "layer": [{"mark": {"type": "area", "xOffset": -78, "yOffset": 11.66, "y2Offset": 11.66}, "encoding": {"y2": {"datum": 0}}}, {"mark": {"type": "line", "xOffset": -78, "yOffset": 11.66}}]},
            {"transform": [{"filter": "datum.f == 300"}], "layer": [{"mark": {"type": "area", "xOffset": -75, "yOffset": 13.25, "y2Offset": 13.25}, "encoding": {"y2": {"datum": 0}}}, {"mark": {"type": "line", "xOffset": -75, "yOffset": 13.25}}]},
            {"transform": [{"filter": "datum.f == 288"}], "layer": [{"mark": {"type": "area", "xOffset": -72, "yOffset": 14.84, "y2Offset": 14.84}, "encoding": {"y2": {"datum": 0}}}, {"mark": {"type": "line", "xOffset": -72, "yOffset": 14.84}}]},
            {"transform": [{"filter": "datum.f == 276"}], "layer": [{"mark": {"type": "area", "xOffset": -69, "yOffset": 16.43, "y2Offset": 16.43}, "encoding": {"y2": {"datum": 0}}}, {"mark": {"type": "line", "xOffset": -69, "yOffset": 16.43}}]},
            {"transform": [{"filter": "datum.f == 264"}], "layer": [{"mark": {"type": "area", "xOffset": -66, "yOffset": 18.02, "y2Offset": 18.02}, "encoding": {"y2": {"datum": 0}}}, {"mark": {"type": "line", "xOffset": -66, "yOffset": 18.02}}]},
            {"transform": [{"filter": "datum.f == 252"}], "layer": [{"mark": {"type": "area", "xOffset": -63, "yOffset": 19.61, "y2Offset": 19.61}, "encoding": {"y2": {"datum": 0}}}, {"mark": {"type": "line", "xOffset": -63, "yOffset": 19.61}}]},
            {"transform": [{"filter": "datum.f == 240"}], "layer": [{"mark": {"type": "area", "xOffset": -60, "yOffset": 21.2, "y2Offset": 21.2}, "encoding": {"y2": {"datum": 0}}}, {"mark": {"type": "line", "xOffset": -60, "yOffset": 21.2}}]},
            {"transform": [{"filter": "datum.f == 228"}], "layer": [{"mark": {"type": "area", "xOffset": -57, "yOffset": 22.79, "y2Offset": 22.79}, "encoding": {"y2": {"datum": 0}}}, {"mark": {"type": "line", "xOffset": -57, "yOffset": 22.79}}]},
            {"transform": [{"filter": "datum.f == 216"}], "layer": [{"mark": {"type": "area", "xOffset": -54, "yOffset": 24.38, "y2Offset": 24.38}, "encoding": {"y2": {"datum": 0}}}, {"mark": {"type": "line", "xOffset": -54, "yOffset": 24.38}}]},
            {"transform": [{"filter": "datum.f == 204"}], "layer": [{"mark": {"type": "area", "xOffset": -51, "yOffset": 25.97, "y2Offset": 25.97}, "encoding": {"y2": {"datum": 0}}}, {"mark": {"type": "line", "xOffset": -51, "yOffset": 25.97}}]},
            {"transform": [{"filter": "datum.f == 192"}], "layer": [{"mark": {"type": "area", "xOffset": -48, "yOffset": 27.56, "y2Offset": 27.56}, "encoding": {"y2": {"datum": 0}}}, {"mark": {"type": "line", "xOffset": -48, "yOffset": 27.56}}]},
            {"transform": [{"filter": "datum.f == 180"}], "layer": [{"mark": {"type": "area", "xOffset": -45, "yOffset": 29.15, "y2Offset": 29.15}, "encoding": {"y2": {"datum": 0}}}, {"mark": {"type": "line", "xOffset": -45, "yOffset": 29.15}}]},
            {"transform": [{"filter": "datum.f == 168"}], "layer": [{"mark": {"type": "area", "xOffset": -42, "yOffset": 30.74, "y2Offset": 30.74}, "encoding": {"y2": {"datum": 0}}}, {"mark": {"type": "line", "xOffset": -42, "yOffset": 30.74}}]},
            {"transform": [{"filter": "datum.f == 156"}], "layer": [{"mark": {"type": "area", "xOffset": -39, "yOffset": 32.33, "y2Offset": 32.33}, "encoding": {"y2": {"datum": 0}}}, {"mark": {"type": "line", "xOffset": -39, "yOffset": 32.33}}]},
            {"transform": [{"filter": "datum.f == 144"}], "layer": [{"mark": {"type": "area", "xOffset": -36, "yOffset": 33.92, "y2Offset": 33.92}, "encoding": {"y2": {"datum": 0}}}, {"mark": {"type": "line", "xOffset": -36, "yOffset": 33.92}}]},
            {"transform": [{"filter": "datum.f == 132"}], "layer": [{"mark": {"type": "area", "xOffset": -33, "yOffset": 35.51, "y2Offset": 35.51}, "encoding": {"y2": {"datum": 0}}}, {"mark": {"type": "line", "xOffset": -33, "yOffset": 35.51}}]},
            {"transform": [{"filter": "datum.f == 120"}], "layer": [{"mark": {"type": "area", "xOffset": -30, "yOffset": 37.1, "y2Offset": 37.1}, "encoding": {"y2": {"datum": 0}}}, {"mark": {"type": "line", "xOffset": -30, "yOffset": 37.1}}]},
            {"transform": [{"filter": "datum.f == 108"}], "layer": [{"mark": {"type": "area", "xOffset": -27, "yOffset": 38.69, "y2Offset": 38.69}, "encoding": {"y2": {"datum": 0}}}, {"mark": {"type": "line", "xOffset": -27, "yOffset": 38.69}}]},
            {"transform": [{"filter": "datum.f == 96"}], "layer": [{"mark": {"type": "area", "xOffset": -24, "yOffset": 40.28, "y2Offset": 40.28}, "encoding": {"y2": {"datum": 0}}}, {"mark": {"type": "line", "xOffset": -24, "yOffset": 40.28}}]},
            {"transform": [{"filter": "datum.f == 84"}], "layer": [{"mark": {"type": "area", "xOffset": -21, "yOffset": 41.87, "y2Offset": 41.87}, "encoding": {"y2": {"datum": 0}}}, {"mark": {"type": "line", "xOffset": -21, "yOffset": 41.87}}]},
            {"transform": [{"filter": "datum.f == 72"}], "layer": [{"mark": {"type": "area", "xOffset": -18, "yOffset": 43.46, "y2Offset": 43.46}, "encoding": {"y2": {"datum": 0}}}, {"mark": {"type": "line", "xOffset": -18, "yOffset": 43.46}}]},
            {"transform": [{"filter": "datum.f == 60"}], "layer": [{"mark": {"type": "area", "xOffset": -15, "yOffset": 45.05, "y2Offset": 45.05}, "encoding": {"y2": {"datum": 0}}}, {"mark": {"type": "line", "xOffset": -15, "yOffset": 45.05}}]},
            {"transform": [{"filter": "datum.f == 48"}], "layer": [{"mark": {"type": "area", "xOffset": -12, "yOffset": 46.64, "y2Offset": 46.64}, "encoding": {"y2": {"datum": 0}}}, {"mark": {"type": "line", "xOffset": -12, "yOffset": 46.64}}]},
            {"transform": [{"filter": "datum.f == 36"}], "layer": [{"mark": {"type": "area", "xOffset": -9, "yOffset": 48.23, "y2Offset": 48.23}, "encoding": {"y2": {"datum": 0}}}, {"mark": {"type": "line", "xOffset": -9, "yOffset": 48.23}}]},
            {"transform": [{"filter": "datum.f == 24"}], "layer": [{"mark": {"type": "area", "xOffset": -6, "yOffset": 49.82, "y2Offset": 49.82}, "encoding": {"y2": {"datum": 0}}}, {"mark": {"type": "line", "xOffset": -6, "yOffset": 49.82}}]},
            {"transform": [{"filter": "datum.f == 12"}], "layer": [{"mark": {"type": "area", "xOffset": -3, "yOffset": 51.41, "y2Offset": 51.41}, "encoding": {"y2": {"datum": 0}}}, {"mark": {"type": "line", "xOffset": -3, "yOffset": 51.41}}]},
            {"transform": [{"filter": "datum.f == 0"}], "layer": [{"mark": {"type": "area", "xOffset": 0, "yOffset": 53, "y2Offset": 53}, "encoding": {"y2": {"datum": 0}}}, {"mark": {"type": "line", "xOffset": 0, "yOffset": 53}}]}
          ]
        },
        {
          "encoding": {
            "x": {"field": "f", "type": "quantitative", "scale": {"domain": [0, 400], "range": [100, 0]}, "axis": null},
            "y": {"field": "f", "type": "quantitative", "scale": {"domain": [0, 400], "range": [170, 117]}, "axis": null}
          },
          "layer": [
            {"data": {"name": "pt"}, "mark": {"type": "text", "font": "Liberation Sans", "fontSize": 7, "color": "#333", "dx": -10, "dy": 6}, "encoding": {"text": {"field": "f", "type": "quantitative", "format": "d"}}},
            {"data": {"values": [{}]}, "mark": {"type": "text", "text": "φ", "font": "Liberation Serif", "fontSize": 22, "fontWeight": "bold", "color": "#000", "dx": -11, "dy": 19.5}, "encoding": {"x": {"datum": 200}, "y": {"datum": 200}}}
          ]
        }
      ]
    }
  ]
}
